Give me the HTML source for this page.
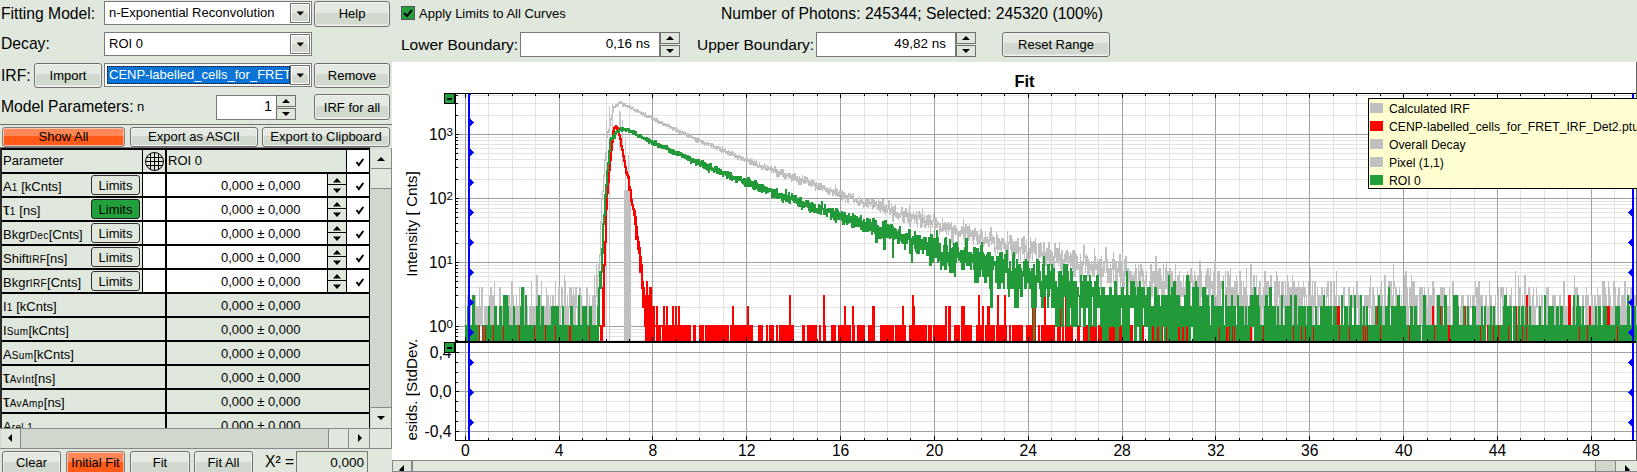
<!DOCTYPE html>
<html><head><meta charset="utf-8"><style>
html,body{margin:0;padding:0;width:1637px;height:472px;overflow:hidden;background:#e0e8de;position:relative;font-family:"Liberation Sans", sans-serif;}
div,span,svg{position:absolute;box-sizing:border-box;}
span{white-space:nowrap;}
sub{font-size:10px;vertical-align:baseline;letter-spacing:0.4px;}
</style></head><body>
<span style="left:1px;top:6px;font-size:15.7px;line-height:15.7px;color:#000;font-weight:400;">Fitting Model:</span>
<div style="left:104px;top:1px;width:208px;height:24px;border:1px solid #7a7a7a;background:#fff"></div>
<span style="left:109px;top:6px;font-size:13px;line-height:13px;color:#000;font-weight:400;">n-Exponential Reconvolution</span>
<div style="left:290px;top:3px;width:20px;height:20px;border:1px solid #707070;background:linear-gradient(to bottom,#e4eae2 0,#e4eae2 52%,#d1d9cf 52%,#d1d9cf 92%,#e0e6de 92%);box-shadow:inset 0 0 0 1px #fff"></div>
<svg style="left:290px;top:3px" width="20" height="20"><path d="M6.5 8.5 h7.5 l-3.75 4z" fill="#000"/></svg>
<div style="left:314px;top:1px;width:76px;height:26px;border:1px solid #707070;border-radius:3px;background:linear-gradient(to bottom,#e4eae2 0,#e4eae2 45%,#d1d9cf 45%,#d1d9cf 92%,#e0e6de 92%);box-shadow:inset 0 0 0 1px rgba(255,255,255,0.55)"></div>
<span style="left:152.0px;width:400px;top:7px;font-size:13px;line-height:13px;color:#000;font-weight:400;text-align:center;">Help</span>
<span style="left:1px;top:36px;font-size:15.7px;line-height:15.7px;color:#000;font-weight:400;">Decay:</span>
<div style="left:104px;top:32px;width:208px;height:24px;border:1px solid #7a7a7a;background:#fff"></div>
<span style="left:109px;top:37px;font-size:13px;line-height:13px;color:#000;font-weight:400;">ROI 0</span>
<div style="left:290px;top:34px;width:20px;height:20px;border:1px solid #707070;background:linear-gradient(to bottom,#e4eae2 0,#e4eae2 52%,#d1d9cf 52%,#d1d9cf 92%,#e0e6de 92%);box-shadow:inset 0 0 0 1px #fff"></div>
<svg style="left:290px;top:34px" width="20" height="20"><path d="M6.5 8.5 h7.5 l-3.75 4z" fill="#000"/></svg>
<span style="left:1px;top:68px;font-size:15.7px;line-height:15.7px;color:#000;font-weight:400;">IRF:</span>
<div style="left:34px;top:63px;width:68px;height:25px;border:1px solid #707070;border-radius:3px;background:linear-gradient(to bottom,#e4eae2 0,#e4eae2 45%,#d1d9cf 45%,#d1d9cf 92%,#e0e6de 92%);box-shadow:inset 0 0 0 1px rgba(255,255,255,0.55)"></div>
<span style="left:-132.0px;width:400px;top:69px;font-size:13px;line-height:13px;color:#000;font-weight:400;text-align:center;">Import</span>
<div style="left:104px;top:63px;width:208px;height:24px;border:1px solid #7a7a7a;background:#fff"></div>
<div style="left:107px;top:66px;width:183px;height:18px;background:#0a74d6;outline:1px dotted #ff8c00;outline-offset:-1px"></div>
<div style="left:107px;top:66px;width:183px;height:18px;border:1px dotted #000;box-sizing:border-box"></div>
<span style="left:109px;top:68px;font-size:13px;line-height:13px;color:#fff;font-weight:400;width:180px;height:17px;overflow:hidden;white-space:nowrap">CENP-labelled_cells_for_FRET</span>
<div style="left:290px;top:65px;width:20px;height:20px;border:1px solid #707070;background:linear-gradient(to bottom,#e4eae2 0,#e4eae2 52%,#d1d9cf 52%,#d1d9cf 92%,#e0e6de 92%);box-shadow:inset 0 0 0 1px #fff"></div>
<svg style="left:290px;top:65px" width="20" height="20"><path d="M6.5 8.5 h7.5 l-3.75 4z" fill="#000"/></svg>
<div style="left:314px;top:63px;width:76px;height:25px;border:1px solid #707070;border-radius:3px;background:linear-gradient(to bottom,#e4eae2 0,#e4eae2 45%,#d1d9cf 45%,#d1d9cf 92%,#e0e6de 92%);box-shadow:inset 0 0 0 1px rgba(255,255,255,0.55)"></div>
<span style="left:152.0px;width:400px;top:69px;font-size:13px;line-height:13px;color:#000;font-weight:400;text-align:center;">Remove</span>
<span style="left:1px;top:99px;font-size:15.7px;line-height:15.7px;color:#000;font-weight:400;">Model Parameters:</span>
<span style="left:137px;top:100px;font-size:13px;line-height:13px;color:#000;font-weight:400;">n</span>
<div style="left:216px;top:95px;width:61px;height:25px;border:1px solid #7a7a7a;background:#fff"></div>
<span style="right:1365px;top:99px;font-size:14.5px;line-height:14.5px;color:#000;font-weight:400;text-align:right;">1</span>
<div style="left:276px;top:95px;width:20px;height:12px;border:1px solid #707070;background:#e0e8de;"></div>
<svg style="left:276px;top:95px" width="20" height="12"><path d="M6.0 8.0 h8 l-4 -4z" fill="#000"/></svg>
<div style="left:276px;top:108px;width:20px;height:12px;border:1px solid #707070;background:#e0e8de;"></div>
<svg style="left:276px;top:108px" width="20" height="12"><path d="M6.0 4.0 h8 l-4 4z" fill="#000"/></svg>
<div style="left:314px;top:94px;width:76px;height:26px;border:1px solid #707070;border-radius:3px;background:linear-gradient(to bottom,#e4eae2 0,#e4eae2 45%,#d1d9cf 45%,#d1d9cf 92%,#e0e6de 92%);box-shadow:inset 0 0 0 1px rgba(255,255,255,0.55)"></div>
<span style="left:152.0px;width:400px;top:101px;font-size:13px;line-height:13px;color:#000;font-weight:400;text-align:center;">IRF for all</span>
<div style="left:0px;top:124px;width:392px;height:1px;background:#707070"></div>
<div style="left:2px;top:127px;width:123px;height:20px;border:1px solid #808080;border-radius:3px;background:linear-gradient(to bottom,#ff8655 0,#ff8655 45%,#ff5a18 45%,#ff5a18 92%,#ff7040 92%);box-shadow:inset 0 0 0 1px rgba(255,255,255,0.55)"></div>
<span style="left:-136.5px;width:400px;top:130px;font-size:13px;line-height:13px;color:#000;font-weight:400;text-align:center;">Show All</span>
<div style="left:130px;top:127px;width:128px;height:20px;border:1px solid #707070;border-radius:3px;background:linear-gradient(to bottom,#e4eae2 0,#e4eae2 45%,#d1d9cf 45%,#d1d9cf 92%,#e0e6de 92%);box-shadow:inset 0 0 0 1px rgba(255,255,255,0.55)"></div>
<span style="left:-6.0px;width:400px;top:130px;font-size:13px;line-height:13px;color:#000;font-weight:400;text-align:center;">Export as ASCII</span>
<div style="left:262px;top:127px;width:128px;height:20px;border:1px solid #707070;border-radius:3px;background:linear-gradient(to bottom,#e4eae2 0,#e4eae2 45%,#d1d9cf 45%,#d1d9cf 92%,#e0e6de 92%);box-shadow:inset 0 0 0 1px rgba(255,255,255,0.55)"></div>
<span style="left:126.0px;width:400px;top:130px;font-size:13px;line-height:13px;color:#000;font-weight:400;text-align:center;">Export to Clipboard</span>
<div style="left:1px;top:148px;width:369px;height:280px;background:#e0e8de"></div>
<div style="left:0px;top:147px;width:370px;height:1px;background:#777"></div>
<div style="left:142px;top:150px;width:23px;height:22px;background:#e0e8de"></div>
<div style="left:167px;top:150px;width:179px;height:22px;background:#e0e8de"></div>
<div style="left:347px;top:150px;width:22px;height:22px;background:#fff"></div>
<span style="left:3px;top:154px;font-size:13px;line-height:13px;color:#000;font-weight:400;">Parameter</span>
<span style="left:168px;top:154px;font-size:13px;line-height:13px;color:#000;font-weight:400;">ROI 0</span>
<div style="left:143px;top:174px;width:22px;height:22px;background:#fff"></div>
<div style="left:167px;top:174px;width:160px;height:22px;background:#fff"></div>
<div style="left:347px;top:174px;width:22px;height:22px;background:#fff"></div>
<div style="left:328px;top:174px;width:18px;height:22px;background:#e0e8de"></div>
<div style="left:328px;top:184px;width:18px;height:1px;background:#000"></div>
<svg style="left:328px;top:174px" width="18" height="22"><path d="M5 8.5 h8 l-4 -4.5z M5 14.5 h8 l-4 4.5z" fill="#000"/></svg>
<span style="left:3px;top:180px;font-size:13px;line-height:13px;color:#000;font-weight:400;">A<sub>1</sub> [kCnts]</span>
<span style="left:221px;top:179px;font-size:13px;line-height:13px;color:#000;font-weight:400;">0,000 ± 0,000</span>
<div style="left:91px;top:175px;width:49px;height:20px;border:1px solid #303030;border-radius:3px;background:#e0e8de"></div>
<span style="left:-84.5px;width:400px;top:179px;font-size:13px;line-height:13px;color:#000;font-weight:400;text-align:center;">Limits</span>
<div style="left:143px;top:198px;width:22px;height:22px;background:#fff"></div>
<div style="left:167px;top:198px;width:160px;height:22px;background:#fff"></div>
<div style="left:347px;top:198px;width:22px;height:22px;background:#fff"></div>
<div style="left:328px;top:198px;width:18px;height:22px;background:#e0e8de"></div>
<div style="left:328px;top:208px;width:18px;height:1px;background:#000"></div>
<svg style="left:328px;top:198px" width="18" height="22"><path d="M5 8.5 h8 l-4 -4.5z M5 14.5 h8 l-4 4.5z" fill="#000"/></svg>
<span style="left:3px;top:204px;font-size:13px;line-height:13px;color:#000;font-weight:400;"><b style="font-weight:400;font-size:17px;line-height:10px">τ</b><sub>1</sub> [ns]</span>
<span style="left:221px;top:203px;font-size:13px;line-height:13px;color:#000;font-weight:400;">0,000 ± 0,000</span>
<div style="left:91px;top:199px;width:49px;height:20px;border:1px solid #202020;border-radius:3px;background:#22a03c"></div>
<span style="left:-84.5px;width:400px;top:203px;font-size:13px;line-height:13px;color:#000;font-weight:400;text-align:center;">Limits</span>
<div style="left:143px;top:222px;width:22px;height:22px;background:#fff"></div>
<div style="left:167px;top:222px;width:160px;height:22px;background:#fff"></div>
<div style="left:347px;top:222px;width:22px;height:22px;background:#fff"></div>
<div style="left:328px;top:222px;width:18px;height:22px;background:#e0e8de"></div>
<div style="left:328px;top:232px;width:18px;height:1px;background:#000"></div>
<svg style="left:328px;top:222px" width="18" height="22"><path d="M5 8.5 h8 l-4 -4.5z M5 14.5 h8 l-4 4.5z" fill="#000"/></svg>
<span style="left:3px;top:228px;font-size:13px;line-height:13px;color:#000;font-weight:400;">Bkgr<sub>Dec</sub>[Cnts]</span>
<span style="left:221px;top:227px;font-size:13px;line-height:13px;color:#000;font-weight:400;">0,000 ± 0,000</span>
<div style="left:91px;top:223px;width:49px;height:20px;border:1px solid #303030;border-radius:3px;background:#e0e8de"></div>
<span style="left:-84.5px;width:400px;top:227px;font-size:13px;line-height:13px;color:#000;font-weight:400;text-align:center;">Limits</span>
<div style="left:143px;top:246px;width:22px;height:22px;background:#fff"></div>
<div style="left:167px;top:246px;width:160px;height:22px;background:#fff"></div>
<div style="left:347px;top:246px;width:22px;height:22px;background:#fff"></div>
<div style="left:328px;top:246px;width:18px;height:22px;background:#e0e8de"></div>
<div style="left:328px;top:256px;width:18px;height:1px;background:#000"></div>
<svg style="left:328px;top:246px" width="18" height="22"><path d="M5 8.5 h8 l-4 -4.5z M5 14.5 h8 l-4 4.5z" fill="#000"/></svg>
<span style="left:3px;top:252px;font-size:13px;line-height:13px;color:#000;font-weight:400;">Shift<sub>IRF</sub>[ns]</span>
<span style="left:221px;top:251px;font-size:13px;line-height:13px;color:#000;font-weight:400;">0,000 ± 0,000</span>
<div style="left:91px;top:247px;width:49px;height:20px;border:1px solid #303030;border-radius:3px;background:#e0e8de"></div>
<span style="left:-84.5px;width:400px;top:251px;font-size:13px;line-height:13px;color:#000;font-weight:400;text-align:center;">Limits</span>
<div style="left:143px;top:270px;width:22px;height:22px;background:#fff"></div>
<div style="left:167px;top:270px;width:160px;height:22px;background:#fff"></div>
<div style="left:347px;top:270px;width:22px;height:22px;background:#fff"></div>
<div style="left:328px;top:270px;width:18px;height:22px;background:#e0e8de"></div>
<div style="left:328px;top:280px;width:18px;height:1px;background:#000"></div>
<svg style="left:328px;top:270px" width="18" height="22"><path d="M5 8.5 h8 l-4 -4.5z M5 14.5 h8 l-4 4.5z" fill="#000"/></svg>
<span style="left:3px;top:276px;font-size:13px;line-height:13px;color:#000;font-weight:400;">Bkgr<sub>IRF</sub>[Cnts]</span>
<span style="left:221px;top:275px;font-size:13px;line-height:13px;color:#000;font-weight:400;">0,000 ± 0,000</span>
<div style="left:91px;top:271px;width:49px;height:20px;border:1px solid #303030;border-radius:3px;background:#e0e8de"></div>
<span style="left:-84.5px;width:400px;top:275px;font-size:13px;line-height:13px;color:#000;font-weight:400;text-align:center;">Limits</span>
<span style="left:3px;top:300px;font-size:13px;line-height:13px;color:#000;font-weight:400;">I<sub>1</sub> [kCnts]</span>
<span style="left:221px;top:299px;font-size:13px;line-height:13px;color:#000;font-weight:400;">0,000 ± 0,000</span>
<span style="left:3px;top:324px;font-size:13px;line-height:13px;color:#000;font-weight:400;">I<sub>Sum</sub>[kCnts]</span>
<span style="left:221px;top:323px;font-size:13px;line-height:13px;color:#000;font-weight:400;">0,000 ± 0,000</span>
<span style="left:3px;top:348px;font-size:13px;line-height:13px;color:#000;font-weight:400;">A<sub>Sum</sub>[kCnts]</span>
<span style="left:221px;top:347px;font-size:13px;line-height:13px;color:#000;font-weight:400;">0,000 ± 0,000</span>
<span style="left:3px;top:372px;font-size:13px;line-height:13px;color:#000;font-weight:400;"><b style="font-weight:400;font-size:17px;line-height:10px">τ</b><sub>AvInt</sub>[ns]</span>
<span style="left:221px;top:371px;font-size:13px;line-height:13px;color:#000;font-weight:400;">0,000 ± 0,000</span>
<span style="left:3px;top:396px;font-size:13px;line-height:13px;color:#000;font-weight:400;"><b style="font-weight:400;font-size:17px;line-height:10px">τ</b><sub>AvAmp</sub>[ns]</span>
<span style="left:221px;top:395px;font-size:13px;line-height:13px;color:#000;font-weight:400;">0,000 ± 0,000</span>
<span style="left:3px;top:420px;font-size:13px;line-height:13px;color:#000;font-weight:400;">A<sub>rel 1</sub></span>
<span style="left:221px;top:419px;font-size:13px;line-height:13px;color:#000;font-weight:400;">0,000 ± 0,000</span>
<div style="left:1px;top:148px;width:369px;height:2px;background:#000"></div>
<div style="left:1px;top:172px;width:369px;height:2px;background:#000"></div>
<div style="left:1px;top:196px;width:369px;height:2px;background:#000"></div>
<div style="left:1px;top:220px;width:369px;height:2px;background:#000"></div>
<div style="left:1px;top:244px;width:369px;height:2px;background:#000"></div>
<div style="left:1px;top:268px;width:369px;height:2px;background:#000"></div>
<div style="left:1px;top:292px;width:369px;height:2px;background:#000"></div>
<div style="left:1px;top:316px;width:369px;height:2px;background:#000"></div>
<div style="left:1px;top:340px;width:369px;height:2px;background:#000"></div>
<div style="left:1px;top:364px;width:369px;height:2px;background:#000"></div>
<div style="left:1px;top:388px;width:369px;height:2px;background:#000"></div>
<div style="left:1px;top:412px;width:369px;height:2px;background:#000"></div>
<div style="left:0px;top:148px;width:2px;height:280px;background:#2a2a2a"></div>
<div style="left:142px;top:148px;width:1px;height:146px;background:#000"></div>
<div style="left:165px;top:148px;width:2px;height:280px;background:#000"></div>
<div style="left:327px;top:172px;width:1px;height:122px;background:#000"></div>
<div style="left:346px;top:148px;width:1px;height:146px;background:#000"></div>
<div style="left:369px;top:148px;width:1px;height:280px;background:#000"></div>
<svg style="left:144px;top:151px" width="21" height="21"><defs><clipPath id="gc"><circle cx="10.5" cy="10.5" r="9"/></clipPath></defs><g fill="none" stroke="#000" stroke-width="1"><circle cx="10.5" cy="10.5" r="9"/><g clip-path="url(#gc)"><path d="M6.5 0V21M10.5 0V21M14.5 0V21M0 6.5H21M0 10.5H21M0 14.5H21"/></g></g></svg>
<svg style="left:350px;top:154px" width="16" height="14"><path d="M6.5 8 l2.3 3 l4.5 -6" fill="none" stroke="#000" stroke-width="2"/></svg>
<svg style="left:350px;top:178px" width="16" height="14"><path d="M6.5 8 l2.3 3 l4.5 -6" fill="none" stroke="#000" stroke-width="2"/></svg>
<svg style="left:350px;top:202px" width="16" height="14"><path d="M6.5 8 l2.3 3 l4.5 -6" fill="none" stroke="#000" stroke-width="2"/></svg>
<svg style="left:350px;top:226px" width="16" height="14"><path d="M6.5 8 l2.3 3 l4.5 -6" fill="none" stroke="#000" stroke-width="2"/></svg>
<svg style="left:350px;top:250px" width="16" height="14"><path d="M6.5 8 l2.3 3 l4.5 -6" fill="none" stroke="#000" stroke-width="2"/></svg>
<svg style="left:350px;top:274px" width="16" height="14"><path d="M6.5 8 l2.3 3 l4.5 -6" fill="none" stroke="#000" stroke-width="2"/></svg>
<div style="left:370px;top:148px;width:22px;height:280px;background:#d0d8ce;border-right:1px solid #888"></div>
<div style="left:371px;top:149px;width:20px;height:20px;background:#e0e8de;border-bottom:1px solid #888"></div>
<svg style="left:371px;top:149px" width="20" height="20"><path d="M6 12 h8 l-4 -4z" fill="#000"/></svg>
<div style="left:371px;top:169px;width:20px;height:20px;background:#e0e8de;border-bottom:1px solid #888"></div>
<div style="left:371px;top:407px;width:20px;height:21px;background:#e0e8de;border-top:1px solid #888"></div>
<svg style="left:371px;top:407px" width="20" height="21"><path d="M6 9 h8 l-4 4z" fill="#000"/></svg>
<div style="left:0px;top:428px;width:392px;height:21px;background:#d0d8ce;border-top:1px solid #888;border-bottom:1px solid #888"></div>
<div style="left:1px;top:429px;width:20px;height:19px;background:#e0e8de;border-right:1px solid #888"></div>
<svg style="left:1px;top:429px" width="20" height="19"><path d="M11 5 v8 l-4 -4z" fill="#000"/></svg>
<div style="left:328px;top:429px;width:21px;height:19px;background:#e0e8de;border-left:1px solid #888;border-right:1px solid #888"></div>
<div style="left:349px;top:429px;width:21px;height:19px;background:#e0e8de;border-right:1px solid #888"></div>
<svg style="left:349px;top:429px" width="20" height="19"><path d="M9 5 v8 l4 -4z" fill="#000"/></svg>
<div style="left:370px;top:428px;width:22px;height:21px;background:#e0e8de;border-top:1px solid #888;border-right:1px solid #888;border-bottom:1px solid #888"></div>
<div style="left:2px;top:451px;width:59px;height:24px;border:1px solid #707070;border-radius:3px;background:linear-gradient(to bottom,#e4eae2 0,#e4eae2 45%,#d1d9cf 45%,#d1d9cf 92%,#e0e6de 92%);box-shadow:inset 0 0 0 1px rgba(255,255,255,0.55)"></div>
<span style="left:-168.5px;width:400px;top:456px;font-size:13px;line-height:13px;color:#000;font-weight:400;text-align:center;">Clear</span>
<div style="left:66px;top:451px;width:59px;height:24px;border:1px solid #808080;border-radius:3px;background:linear-gradient(to bottom,#ff8655 0,#ff8655 45%,#ff5a18 45%,#ff5a18 92%,#ff7040 92%);box-shadow:inset 0 0 0 1px rgba(255,255,255,0.55)"></div>
<span style="left:-104.5px;width:400px;top:456px;font-size:13px;line-height:13px;color:#000;font-weight:400;text-align:center;">Initial Fit</span>
<div style="left:130px;top:451px;width:60px;height:24px;border:1px solid #707070;border-radius:3px;background:linear-gradient(to bottom,#e4eae2 0,#e4eae2 45%,#d1d9cf 45%,#d1d9cf 92%,#e0e6de 92%);box-shadow:inset 0 0 0 1px rgba(255,255,255,0.55)"></div>
<span style="left:-40.0px;width:400px;top:456px;font-size:13px;line-height:13px;color:#000;font-weight:400;text-align:center;">Fit</span>
<div style="left:194px;top:451px;width:59px;height:24px;border:1px solid #707070;border-radius:3px;background:linear-gradient(to bottom,#e4eae2 0,#e4eae2 45%,#d1d9cf 45%,#d1d9cf 92%,#e0e6de 92%);box-shadow:inset 0 0 0 1px rgba(255,255,255,0.55)"></div>
<span style="left:23.5px;width:400px;top:456px;font-size:13px;line-height:13px;color:#000;font-weight:400;text-align:center;">Fit All</span>
<span style="left:265px;top:454px;font-size:15.7px;line-height:15.7px;color:#000;font-weight:400;">X² =</span>
<div style="left:296px;top:451px;width:72px;height:24px;border:1px solid #7a7a7a;background:#e0e8de"></div>
<span style="right:1273px;top:456px;font-size:13.5px;line-height:13.5px;color:#000;font-weight:400;text-align:right;">0,000</span>
<div style="left:401px;top:6px;width:14px;height:14px;background:#22a03c;border:1px solid #555"></div>
<svg style="left:401px;top:6px" width="14" height="14"><path d="M3 7 l3 3 l5 -6" fill="none" stroke="#000" stroke-width="2"/></svg>
<span style="left:419px;top:7px;font-size:13px;line-height:13px;color:#000;font-weight:400;">Apply Limits to All Curves</span>
<span style="left:721px;top:6px;font-size:15.7px;line-height:15.7px;color:#000;font-weight:400;">Number of Photons: 245344; Selected: 245320 (100%)</span>
<span style="left:401px;top:37px;font-size:15.5px;line-height:15.5px;color:#000;font-weight:400;">Lower Boundary:</span>
<div style="left:520px;top:32px;width:140px;height:25px;border:1px solid #7a7a7a;background:#fff"></div>
<span style="right:987px;top:37px;font-size:13.5px;line-height:13.5px;color:#000;font-weight:400;text-align:right;">0,16 ns</span>
<div style="left:660px;top:32px;width:20px;height:12px;border:1px solid #707070;background:#e0e8de;"></div>
<svg style="left:660px;top:32px" width="20" height="12"><path d="M6.0 8.0 h8 l-4 -4z" fill="#000"/></svg>
<div style="left:660px;top:45px;width:20px;height:12px;border:1px solid #707070;background:#e0e8de;"></div>
<svg style="left:660px;top:45px" width="20" height="12"><path d="M6.0 4.0 h8 l-4 4z" fill="#000"/></svg>
<span style="left:697px;top:37px;font-size:15.5px;line-height:15.5px;color:#000;font-weight:400;">Upper Boundary:</span>
<div style="left:816px;top:32px;width:140px;height:25px;border:1px solid #7a7a7a;background:#fff"></div>
<span style="right:691px;top:37px;font-size:13.5px;line-height:13.5px;color:#000;font-weight:400;text-align:right;">49,82 ns</span>
<div style="left:956px;top:32px;width:20px;height:12px;border:1px solid #707070;background:#e0e8de;"></div>
<svg style="left:956px;top:32px" width="20" height="12"><path d="M6.0 8.0 h8 l-4 -4z" fill="#000"/></svg>
<div style="left:956px;top:45px;width:20px;height:12px;border:1px solid #707070;background:#e0e8de;"></div>
<svg style="left:956px;top:45px" width="20" height="12"><path d="M6.0 4.0 h8 l-4 4z" fill="#000"/></svg>
<div style="left:1002px;top:32px;width:108px;height:25px;border:1px solid #707070;border-radius:3px;background:linear-gradient(to bottom,#e4eae2 0,#e4eae2 45%,#d1d9cf 45%,#d1d9cf 92%,#e0e6de 92%);box-shadow:inset 0 0 0 1px rgba(255,255,255,0.55)"></div>
<span style="left:856.0px;width:400px;top:38px;font-size:13px;line-height:13px;color:#000;font-weight:400;text-align:center;">Reset Range</span>
<div style="left:392px;top:62px;width:1245px;height:398px;background:#fff;border-right:1px solid #666"></div>
<svg style="left:0;top:0" width="1637" height="472" shape-rendering="crispEdges"><path d="M488.5 93V440M512.5 93V440M535.5 93V440M582.5 93V440M606.5 93V440M629.5 93V440M676.5 93V440M699.5 93V440M723.5 93V440M770.5 93V440M793.5 93V440M817.5 93V440M864.5 93V440M887.5 93V440M910.5 93V440M957.5 93V440M981.5 93V440M1004.5 93V440M1051.5 93V440M1075.5 93V440M1098.5 93V440M1145.5 93V440M1169.5 93V440M1192.5 93V440M1239.5 93V440M1262.5 93V440M1286.5 93V440M1333.5 93V440M1356.5 93V440M1380.5 93V440M1427.5 93V440M1450.5 93V440M1474.5 93V440M1520.5 93V440M1544.5 93V440M1567.5 93V440M1614.5 93V440M455 340.5H1636M455 336.5H1636M455 332.5H1636M455 329.5H1636M455 307.5H1636M455 295.5H1636M455 287.5H1636M455 281.5H1636M455 276.5H1636M455 272.5H1636M455 268.5H1636M455 265.5H1636M455 243.5H1636M455 231.5H1636M455 223.5H1636M455 217.5H1636M455 212.5H1636M455 208.5H1636M455 204.5H1636M455 201.5H1636M455 179.5H1636M455 167.5H1636M455 159.5H1636M455 153.5H1636M455 148.5H1636M455 144.5H1636M455 140.5H1636M455 137.5H1636M455 115.5H1636M455 103.5H1636M455 95.5H1636M455 421.5H1636M455 411.5H1636M455 401.5H1636M455 382.5H1636M455 372.5H1636M455 362.5H1636" stroke="#e3e3e3" stroke-width="1" fill="none"/><path d="M465.5 93V440M559.5 93V440M652.5 93V440M746.5 93V440M840.5 93V440M934.5 93V440M1028.5 93V440M1122.5 93V440M1215.5 93V440M1309.5 93V440M1403.5 93V440M1497.5 93V440M1591.5 93V440M455 326.5H1636M455 262.5H1636M455 198.5H1636M455 134.5H1636M455 431.5H1636M455 391.5H1636M455 352.5H1636" stroke="#a0a0a0" stroke-width="1" fill="none"/><g stroke="none"><path d="M464 325h1V327h-1ZM465 325h1V327h-1ZM466 325h1V342h-1ZM467 295h1V342h-1ZM468 306h1V327h-1ZM469 306h1V342h-1ZM470 306h1V327h-1ZM471 325h1V342h-1ZM472 306h1V342h-1ZM473 306h1V342h-1ZM474 295h1V342h-1ZM475 295h1V327h-1ZM476 306h1V327h-1ZM477 306h1V327h-1ZM478 306h1V342h-1ZM479 287h1V342h-1ZM480 306h1V327h-1ZM481 287h1V327h-1ZM482 287h1V327h-1ZM483 325h1V342h-1ZM484 306h1V342h-1ZM485 306h1V327h-1ZM486 306h1V327h-1ZM487 306h1V327h-1ZM488 306h1V342h-1ZM489 295h1V342h-1ZM490 287h1V327h-1ZM491 287h1V327h-1ZM492 295h1V342h-1ZM493 295h1V342h-1ZM494 281h1V327h-1ZM495 306h1V342h-1ZM496 306h1V342h-1ZM497 325h1V342h-1ZM498 325h1V342h-1ZM499 287h1V327h-1ZM500 287h1V342h-1ZM501 306h1V327h-1ZM502 306h1V327h-1ZM503 295h1V342h-1ZM504 295h1V327h-1ZM505 306h1V327h-1ZM506 325h1V327h-1ZM507 295h1V342h-1ZM508 295h1V308h-1ZM509 295h1V342h-1ZM510 306h1V342h-1ZM511 281h1V342h-1ZM512 281h1V327h-1ZM513 295h1V342h-1ZM514 325h1V342h-1ZM515 306h1V342h-1ZM516 295h1V327h-1ZM517 306h1V342h-1ZM518 306h1V342h-1ZM519 287h1V342h-1ZM520 306h1V342h-1ZM521 306h1V327h-1ZM522 306h1V327h-1ZM523 287h1V327h-1ZM524 287h1V342h-1ZM525 325h1V342h-1ZM526 306h1V342h-1ZM527 306h1V342h-1ZM528 325h1V342h-1ZM529 306h1V327h-1ZM530 306h1V342h-1ZM531 281h1V327h-1ZM532 306h1V342h-1ZM533 306h1V327h-1ZM534 306h1V327h-1ZM535 306h1V342h-1ZM536 275h1V308h-1ZM537 275h1V342h-1ZM538 306h1V342h-1ZM539 306h1V327h-1ZM540 295h1V342h-1ZM541 281h1V327h-1ZM542 306h1V327h-1ZM543 306h1V342h-1ZM544 306h1V327h-1ZM545 306h1V327h-1ZM546 287h1V342h-1ZM547 295h1V342h-1ZM548 295h1V327h-1ZM549 306h1V342h-1ZM550 295h1V342h-1ZM551 306h1V342h-1ZM552 295h1V342h-1ZM553 295h1V327h-1ZM554 306h1V342h-1ZM555 281h1V327h-1ZM556 325h1V342h-1ZM557 306h1V342h-1ZM558 287h1V308h-1ZM559 287h1V327h-1ZM560 306h1V342h-1ZM561 287h1V308h-1ZM562 287h1V327h-1ZM563 306h1V342h-1ZM564 275h1V342h-1ZM565 281h1V327h-1ZM566 306h1V342h-1ZM567 295h1V342h-1ZM568 306h1V327h-1ZM569 287h1V308h-1ZM570 287h1V342h-1ZM571 287h1V342h-1ZM572 295h1V342h-1ZM573 287h1V342h-1ZM574 295h1V327h-1ZM575 287h1V327h-1ZM576 287h1V308h-1ZM577 306h1V342h-1ZM578 325h1V342h-1ZM579 287h1V342h-1ZM580 287h1V327h-1ZM581 295h1V327h-1ZM582 325h1V342h-1ZM583 325h1V342h-1ZM584 325h1V342h-1ZM585 325h1V342h-1ZM586 287h1V327h-1ZM587 287h1V342h-1ZM588 306h1V342h-1ZM589 295h1V327h-1ZM590 325h1V327h-1ZM591 306h1V342h-1ZM592 295h1V327h-1ZM593 295h1V342h-1ZM594 275h1V342h-1ZM595 295h1V342h-1ZM596 264h1V297h-1ZM597 275h1V327h-1ZM598 264h1V277h-1ZM599 254h1V270h-1ZM600 221h1V256h-1ZM601 198h1V223h-1ZM602 190h1V200h-1ZM603 175h1V192h-1ZM604 159h1V177h-1ZM605 152h1V161h-1ZM606 136h1V154h-1ZM607 131h1V138h-1ZM608 129h1V133h-1ZM609 124h1V131h-1ZM610 118h1V126h-1ZM611 114h1V120h-1ZM612 111h1V116h-1ZM613 106h1V113h-1ZM614 106h1V108h-1ZM615 104h1V108h-1ZM616 104h1V107h-1ZM617 103h1V107h-1ZM618 102h1V106h-1ZM619 101h1V104h-1ZM620 101h1V104h-1ZM621 101h1V104h-1ZM622 102h1V107h-1ZM623 103h1V107h-1ZM624 103h1V106h-1ZM625 103h1V107h-1ZM626 105h1V107h-1ZM627 105h1V108h-1ZM628 105h1V108h-1ZM629 106h1V108h-1ZM630 105h1V109h-1ZM631 107h1V110h-1ZM632 107h1V109h-1ZM633 107h1V111h-1ZM634 109h1V111h-1ZM635 109h1V112h-1ZM636 109h1V113h-1ZM637 109h1V112h-1ZM638 110h1V113h-1ZM639 111h1V113h-1ZM640 111h1V114h-1ZM641 112h1V115h-1ZM642 112h1V115h-1ZM643 112h1V116h-1ZM644 113h1V117h-1ZM645 112h1V117h-1ZM646 115h1V118h-1ZM647 115h1V118h-1ZM648 115h1V118h-1ZM649 115h1V118h-1ZM650 115h1V118h-1ZM651 116h1V120h-1ZM652 117h1V120h-1ZM653 117h1V120h-1ZM654 118h1V121h-1ZM655 118h1V122h-1ZM656 118h1V122h-1ZM657 118h1V123h-1ZM658 120h1V124h-1ZM659 121h1V124h-1ZM660 121h1V124h-1ZM661 121h1V124h-1ZM662 121h1V126h-1ZM663 123h1V126h-1ZM664 123h1V126h-1ZM665 123h1V126h-1ZM666 124h1V127h-1ZM667 124h1V127h-1ZM668 124h1V127h-1ZM669 124h1V129h-1ZM670 126h1V128h-1ZM671 126h1V129h-1ZM672 127h1V131h-1ZM673 127h1V130h-1ZM674 127h1V130h-1ZM675 127h1V132h-1ZM676 130h1V132h-1ZM677 128h1V132h-1ZM678 130h1V133h-1ZM679 130h1V134h-1ZM680 130h1V133h-1ZM681 131h1V134h-1ZM682 131h1V135h-1ZM683 132h1V135h-1ZM684 131h1V136h-1ZM685 132h1V135h-1ZM686 133h1V137h-1ZM687 133h1V137h-1ZM688 133h1V138h-1ZM689 135h1V138h-1ZM690 134h1V138h-1ZM691 135h1V138h-1ZM692 136h1V139h-1ZM693 137h1V139h-1ZM694 137h1V140h-1ZM695 137h1V142h-1ZM696 138h1V143h-1ZM697 138h1V143h-1ZM698 137h1V142h-1ZM699 139h1V142h-1ZM700 139h1V142h-1ZM701 140h1V144h-1ZM702 140h1V144h-1ZM703 140h1V145h-1ZM704 142h1V146h-1ZM705 142h1V145h-1ZM706 143h1V146h-1ZM707 142h1V145h-1ZM708 142h1V146h-1ZM709 143h1V145h-1ZM710 143h1V147h-1ZM711 143h1V148h-1ZM712 143h1V147h-1ZM713 144h1V149h-1ZM714 146h1V149h-1ZM715 146h1V149h-1ZM716 146h1V150h-1ZM717 146h1V150h-1ZM718 145h1V149h-1ZM719 147h1V151h-1ZM720 147h1V152h-1ZM721 149h1V153h-1ZM722 146h1V152h-1ZM723 148h1V153h-1ZM724 149h1V152h-1ZM725 149h1V153h-1ZM726 151h1V154h-1ZM727 151h1V155h-1ZM728 150h1V155h-1ZM729 151h1V156h-1ZM730 152h1V156h-1ZM731 151h1V156h-1ZM732 151h1V155h-1ZM733 152h1V156h-1ZM734 154h1V158h-1ZM735 153h1V158h-1ZM736 155h1V158h-1ZM737 155h1V160h-1ZM738 155h1V160h-1ZM739 155h1V158h-1ZM740 156h1V161h-1ZM741 156h1V160h-1ZM742 157h1V161h-1ZM743 157h1V161h-1ZM744 158h1V162h-1ZM745 158h1V161h-1ZM746 157h1V161h-1ZM747 157h1V162h-1ZM748 159h1V162h-1ZM749 159h1V165h-1ZM750 158h1V165h-1ZM751 159h1V165h-1ZM752 159h1V165h-1ZM753 161h1V166h-1ZM754 161h1V166h-1ZM755 161h1V166h-1ZM756 160h1V166h-1ZM757 163h1V168h-1ZM758 165h1V168h-1ZM759 162h1V167h-1ZM760 165h1V168h-1ZM761 165h1V170h-1ZM762 165h1V170h-1ZM763 166h1V168h-1ZM764 163h1V170h-1ZM765 165h1V170h-1ZM766 167h1V171h-1ZM767 165h1V171h-1ZM768 166h1V170h-1ZM769 167h1V170h-1ZM770 167h1V171h-1ZM771 166h1V173h-1ZM772 168h1V171h-1ZM773 169h1V174h-1ZM774 166h1V172h-1ZM775 166h1V173h-1ZM776 169h1V177h-1ZM777 169h1V178h-1ZM778 171h1V177h-1ZM779 171h1V177h-1ZM780 169h1V175h-1ZM781 169h1V175h-1ZM782 169h1V177h-1ZM783 169h1V178h-1ZM784 173h1V179h-1ZM785 173h1V179h-1ZM786 174h1V179h-1ZM787 173h1V176h-1ZM788 173h1V178h-1ZM789 173h1V178h-1ZM790 173h1V179h-1ZM791 175h1V182h-1ZM792 174h1V181h-1ZM793 174h1V181h-1ZM794 173h1V180h-1ZM795 173h1V181h-1ZM796 176h1V182h-1ZM797 176h1V182h-1ZM798 178h1V185h-1ZM799 176h1V185h-1ZM800 178h1V185h-1ZM801 178h1V185h-1ZM802 175h1V182h-1ZM803 179h1V184h-1ZM804 176h1V184h-1ZM805 176h1V183h-1ZM806 177h1V184h-1ZM807 177h1V182h-1ZM808 180h1V186h-1ZM809 180h1V186h-1ZM810 181h1V186h-1ZM811 180h1V187h-1ZM812 179h1V186h-1ZM813 180h1V185h-1ZM814 181h1V187h-1ZM815 183h1V191h-1ZM816 182h1V189h-1ZM817 185h1V190h-1ZM818 183h1V190h-1ZM819 183h1V191h-1ZM820 183h1V190h-1ZM821 183h1V190h-1ZM822 185h1V191h-1ZM823 185h1V189h-1ZM824 185h1V190h-1ZM825 187h1V192h-1ZM826 187h1V192h-1ZM827 188h1V194h-1ZM828 188h1V195h-1ZM829 189h1V195h-1ZM830 187h1V193h-1ZM831 189h1V192h-1ZM832 190h1V196h-1ZM833 189h1V196h-1ZM834 190h1V194h-1ZM835 184h1V196h-1ZM836 188h1V196h-1ZM837 189h1V197h-1ZM838 192h1V197h-1ZM839 190h1V197h-1ZM840 191h1V195h-1ZM841 191h1V200h-1ZM842 190h1V201h-1ZM843 192h1V198h-1ZM844 192h1V199h-1ZM845 194h1V203h-1ZM846 195h1V198h-1ZM847 195h1V203h-1ZM848 193h1V203h-1ZM849 193h1V197h-1ZM850 193h1V198h-1ZM851 195h1V198h-1ZM852 194h1V198h-1ZM853 193h1V203h-1ZM854 198h1V203h-1ZM855 198h1V201h-1ZM856 199h1V203h-1ZM857 198h1V205h-1ZM858 201h1V206h-1ZM859 196h1V206h-1ZM860 200h1V205h-1ZM861 198h1V203h-1ZM862 198h1V204h-1ZM863 201h1V208h-1ZM864 202h1V207h-1ZM865 198h1V206h-1ZM866 199h1V207h-1ZM867 199h1V207h-1ZM868 199h1V208h-1ZM869 198h1V204h-1ZM870 202h1V207h-1ZM871 199h1V205h-1ZM872 199h1V210h-1ZM873 199h1V208h-1ZM874 200h1V208h-1ZM875 201h1V207h-1ZM876 201h1V206h-1ZM877 204h1V210h-1ZM878 198h1V210h-1ZM879 201h1V211h-1ZM880 201h1V213h-1ZM881 202h1V210h-1ZM882 199h1V211h-1ZM883 199h1V213h-1ZM884 206h1V212h-1ZM885 205h1V215h-1ZM886 204h1V213h-1ZM887 208h1V213h-1ZM888 200h1V210h-1ZM889 200h1V215h-1ZM890 208h1V215h-1ZM891 204h1V213h-1ZM892 207h1V222h-1ZM893 206h1V222h-1ZM894 206h1V216h-1ZM895 204h1V217h-1ZM896 212h1V218h-1ZM897 212h1V219h-1ZM898 212h1V220h-1ZM899 214h1V218h-1ZM900 212h1V218h-1ZM901 207h1V215h-1ZM902 207h1V222h-1ZM903 211h1V223h-1ZM904 211h1V223h-1ZM905 208h1V217h-1ZM906 208h1V217h-1ZM907 211h1V222h-1ZM908 213h1V223h-1ZM909 205h1V227h-1ZM910 212h1V227h-1ZM911 214h1V222h-1ZM912 214h1V219h-1ZM913 212h1V219h-1ZM914 215h1V223h-1ZM915 214h1V220h-1ZM916 211h1V224h-1ZM917 215h1V228h-1ZM918 211h1V218h-1ZM919 211h1V220h-1ZM920 213h1V228h-1ZM921 215h1V228h-1ZM922 208h1V227h-1ZM923 217h1V223h-1ZM924 214h1V228h-1ZM925 220h1V228h-1ZM926 216h1V227h-1ZM927 215h1V225h-1ZM928 214h1V228h-1ZM929 215h1V225h-1ZM930 215h1V235h-1ZM931 220h1V225h-1ZM932 220h1V228h-1ZM933 214h1V222h-1ZM934 218h1V229h-1ZM935 217h1V229h-1ZM936 218h1V228h-1ZM937 221h1V228h-1ZM938 222h1V225h-1ZM939 223h1V235h-1ZM940 223h1V231h-1ZM941 228h1V232h-1ZM942 218h1V232h-1ZM943 223h1V231h-1ZM944 222h1V230h-1ZM945 222h1V232h-1ZM946 224h1V235h-1ZM947 223h1V230h-1ZM948 222h1V235h-1ZM949 223h1V230h-1ZM950 223h1V230h-1ZM951 222h1V243h-1ZM952 227h1V245h-1ZM953 226h1V245h-1ZM954 225h1V234h-1ZM955 225h1V236h-1ZM956 228h1V234h-1ZM957 229h1V252h-1ZM958 231h1V252h-1ZM959 231h1V237h-1ZM960 230h1V237h-1ZM961 226h1V235h-1ZM962 227h1V234h-1ZM963 219h1V239h-1ZM964 227h1V245h-1ZM965 224h1V245h-1ZM966 224h1V234h-1ZM967 226h1V240h-1ZM968 226h1V241h-1ZM969 224h1V241h-1ZM970 229h1V237h-1ZM971 231h1V237h-1ZM972 230h1V241h-1ZM973 230h1V245h-1ZM974 228h1V240h-1ZM975 228h1V237h-1ZM976 231h1V241h-1ZM977 231h1V245h-1ZM978 235h1V245h-1ZM979 234h1V244h-1ZM980 229h1V244h-1ZM981 229h1V239h-1ZM982 232h1V247h-1ZM983 239h1V247h-1ZM984 237h1V245h-1ZM985 232h1V243h-1ZM986 237h1V243h-1ZM987 236h1V244h-1ZM988 239h1V247h-1ZM989 232h1V247h-1ZM990 227h1V241h-1ZM991 227h1V245h-1ZM992 235h1V243h-1ZM993 237h1V244h-1ZM994 237h1V252h-1ZM995 247h1V256h-1ZM996 231h1V249h-1ZM997 235h1V254h-1ZM998 238h1V250h-1ZM999 238h1V250h-1ZM1000 241h1V250h-1ZM1001 238h1V252h-1ZM1002 238h1V245h-1ZM1003 238h1V249h-1ZM1004 241h1V249h-1ZM1005 242h1V254h-1ZM1006 245h1V254h-1ZM1007 231h1V261h-1ZM1008 242h1V261h-1ZM1009 235h1V244h-1ZM1010 235h1V250h-1ZM1011 235h1V254h-1ZM1012 239h1V254h-1ZM1013 242h1V258h-1ZM1014 241h1V258h-1ZM1015 241h1V258h-1ZM1016 241h1V254h-1ZM1017 238h1V254h-1ZM1018 238h1V261h-1ZM1019 247h1V252h-1ZM1020 247h1V261h-1ZM1021 238h1V249h-1ZM1022 238h1V254h-1ZM1023 236h1V254h-1ZM1024 236h1V261h-1ZM1025 245h1V252h-1ZM1026 239h1V263h-1ZM1027 252h1V266h-1ZM1028 259h1V266h-1ZM1029 248h1V263h-1ZM1030 237h1V258h-1ZM1031 241h1V254h-1ZM1032 242h1V261h-1ZM1033 241h1V252h-1ZM1034 241h1V254h-1ZM1035 238h1V254h-1ZM1036 243h1V261h-1ZM1037 259h1V273h-1ZM1038 243h1V273h-1ZM1039 243h1V258h-1ZM1040 242h1V258h-1ZM1041 243h1V256h-1ZM1042 252h1V263h-1ZM1043 242h1V261h-1ZM1044 242h1V263h-1ZM1045 252h1V266h-1ZM1046 248h1V266h-1ZM1047 248h1V261h-1ZM1048 242h1V261h-1ZM1049 242h1V266h-1ZM1050 250h1V266h-1ZM1051 250h1V270h-1ZM1052 252h1V283h-1ZM1053 256h1V283h-1ZM1054 243h1V270h-1ZM1055 243h1V258h-1ZM1056 248h1V263h-1ZM1057 248h1V263h-1ZM1058 248h1V266h-1ZM1059 242h1V261h-1ZM1060 254h1V270h-1ZM1061 250h1V273h-1ZM1062 250h1V273h-1ZM1063 259h1V270h-1ZM1064 254h1V277h-1ZM1065 252h1V263h-1ZM1066 250h1V263h-1ZM1067 250h1V261h-1ZM1068 252h1V266h-1ZM1069 256h1V263h-1ZM1070 252h1V277h-1ZM1071 254h1V266h-1ZM1072 250h1V270h-1ZM1073 250h1V277h-1ZM1074 250h1V277h-1ZM1075 252h1V277h-1ZM1076 254h1V270h-1ZM1077 256h1V270h-1ZM1078 264h1V270h-1ZM1079 264h1V283h-1ZM1080 254h1V297h-1ZM1081 261h1V277h-1ZM1082 261h1V277h-1ZM1083 245h1V266h-1ZM1084 245h1V258h-1ZM1085 256h1V273h-1ZM1086 254h1V266h-1ZM1087 256h1V277h-1ZM1088 259h1V277h-1ZM1089 261h1V297h-1ZM1090 264h1V270h-1ZM1091 261h1V273h-1ZM1092 264h1V277h-1ZM1093 261h1V277h-1ZM1094 248h1V277h-1ZM1095 256h1V270h-1ZM1096 264h1V270h-1ZM1097 259h1V283h-1ZM1098 261h1V297h-1ZM1099 259h1V277h-1ZM1100 259h1V289h-1ZM1101 256h1V289h-1ZM1102 268h1V277h-1ZM1103 261h1V277h-1ZM1104 261h1V273h-1ZM1105 247h1V263h-1ZM1106 247h1V273h-1ZM1107 259h1V283h-1ZM1108 268h1V283h-1ZM1109 268h1V283h-1ZM1110 264h1V308h-1ZM1111 268h1V283h-1ZM1112 259h1V270h-1ZM1113 252h1V283h-1ZM1114 259h1V270h-1ZM1115 261h1V289h-1ZM1116 261h1V308h-1ZM1117 268h1V308h-1ZM1118 261h1V273h-1ZM1119 254h1V277h-1ZM1120 254h1V297h-1ZM1121 261h1V283h-1ZM1122 252h1V283h-1ZM1123 271h1V297h-1ZM1124 259h1V289h-1ZM1125 256h1V277h-1ZM1126 256h1V297h-1ZM1127 268h1V297h-1ZM1128 268h1V297h-1ZM1129 271h1V283h-1ZM1130 271h1V289h-1ZM1131 271h1V289h-1ZM1132 275h1V297h-1ZM1133 275h1V297h-1ZM1134 271h1V297h-1ZM1135 264h1V297h-1ZM1136 268h1V297h-1ZM1137 281h1V327h-1ZM1138 264h1V297h-1ZM1139 271h1V308h-1ZM1140 264h1V283h-1ZM1141 264h1V277h-1ZM1142 268h1V283h-1ZM1143 271h1V289h-1ZM1144 281h1V297h-1ZM1145 275h1V283h-1ZM1146 271h1V297h-1ZM1147 287h1V308h-1ZM1148 287h1V308h-1ZM1149 281h1V289h-1ZM1150 264h1V289h-1ZM1151 264h1V297h-1ZM1152 271h1V297h-1ZM1153 271h1V283h-1ZM1154 271h1V289h-1ZM1155 256h1V308h-1ZM1156 256h1V308h-1ZM1157 271h1V308h-1ZM1158 268h1V308h-1ZM1159 268h1V289h-1ZM1160 268h1V289h-1ZM1161 275h1V297h-1ZM1162 281h1V297h-1ZM1163 264h1V297h-1ZM1164 281h1V297h-1ZM1165 268h1V289h-1ZM1166 261h1V289h-1ZM1167 271h1V327h-1ZM1168 271h1V297h-1ZM1169 268h1V297h-1ZM1170 268h1V297h-1ZM1171 271h1V308h-1ZM1172 271h1V327h-1ZM1173 281h1V308h-1ZM1174 281h1V308h-1ZM1175 264h1V308h-1ZM1176 281h1V308h-1ZM1177 275h1V308h-1ZM1178 275h1V297h-1ZM1179 271h1V342h-1ZM1180 281h1V342h-1ZM1181 281h1V297h-1ZM1182 287h1V297h-1ZM1183 275h1V297h-1ZM1184 287h1V308h-1ZM1185 281h1V308h-1ZM1186 281h1V308h-1ZM1187 271h1V297h-1ZM1188 287h1V308h-1ZM1189 275h1V327h-1ZM1190 268h1V327h-1ZM1191 268h1V283h-1ZM1192 275h1V308h-1ZM1193 281h1V297h-1ZM1194 271h1V289h-1ZM1195 275h1V289h-1ZM1196 287h1V308h-1ZM1197 275h1V308h-1ZM1198 275h1V289h-1ZM1199 261h1V327h-1ZM1200 261h1V308h-1ZM1201 271h1V297h-1ZM1202 287h1V297h-1ZM1203 287h1V308h-1ZM1204 287h1V327h-1ZM1205 275h1V327h-1ZM1206 271h1V327h-1ZM1207 268h1V289h-1ZM1208 268h1V327h-1ZM1209 275h1V327h-1ZM1210 268h1V297h-1ZM1211 281h1V289h-1ZM1212 281h1V327h-1ZM1213 271h1V308h-1ZM1214 261h1V308h-1ZM1215 261h1V297h-1ZM1216 295h1V342h-1ZM1217 271h1V308h-1ZM1218 271h1V308h-1ZM1219 271h1V308h-1ZM1220 281h1V308h-1ZM1221 281h1V289h-1ZM1222 281h1V327h-1ZM1223 275h1V342h-1ZM1224 325h1V342h-1ZM1225 271h1V327h-1ZM1226 287h1V327h-1ZM1227 271h1V327h-1ZM1228 271h1V342h-1ZM1229 275h1V327h-1ZM1230 268h1V327h-1ZM1231 287h1V308h-1ZM1232 287h1V308h-1ZM1233 287h1V327h-1ZM1234 281h1V342h-1ZM1235 281h1V342h-1ZM1236 275h1V308h-1ZM1237 281h1V308h-1ZM1238 295h1V327h-1ZM1239 271h1V308h-1ZM1240 271h1V342h-1ZM1241 281h1V308h-1ZM1242 295h1V327h-1ZM1243 281h1V342h-1ZM1244 287h1V327h-1ZM1245 287h1V342h-1ZM1246 268h1V327h-1ZM1247 295h1V327h-1ZM1248 306h1V327h-1ZM1249 295h1V342h-1ZM1250 264h1V297h-1ZM1251 264h1V308h-1ZM1252 287h1V342h-1ZM1253 275h1V327h-1ZM1254 275h1V308h-1ZM1255 287h1V327h-1ZM1256 275h1V327h-1ZM1257 325h1V327h-1ZM1258 287h1V342h-1ZM1259 281h1V308h-1ZM1260 281h1V327h-1ZM1261 295h1V327h-1ZM1262 295h1V308h-1ZM1263 287h1V327h-1ZM1264 271h1V327h-1ZM1265 271h1V342h-1ZM1266 281h1V342h-1ZM1267 281h1V308h-1ZM1268 281h1V297h-1ZM1269 295h1V297h-1ZM1270 275h1V327h-1ZM1271 275h1V327h-1ZM1272 306h1V327h-1ZM1273 306h1V342h-1ZM1274 281h1V342h-1ZM1275 281h1V342h-1ZM1276 271h1V327h-1ZM1277 275h1V327h-1ZM1278 281h1V297h-1ZM1279 281h1V342h-1ZM1280 295h1V327h-1ZM1281 281h1V342h-1ZM1282 281h1V342h-1ZM1283 281h1V308h-1ZM1284 295h1V327h-1ZM1285 281h1V327h-1ZM1286 295h1V342h-1ZM1287 275h1V342h-1ZM1288 281h1V342h-1ZM1289 287h1V342h-1ZM1290 287h1V327h-1ZM1291 287h1V308h-1ZM1292 275h1V327h-1ZM1293 281h1V327h-1ZM1294 281h1V308h-1ZM1295 287h1V327h-1ZM1296 287h1V327h-1ZM1297 287h1V327h-1ZM1298 281h1V327h-1ZM1299 287h1V327h-1ZM1300 287h1V327h-1ZM1301 287h1V327h-1ZM1302 287h1V327h-1ZM1303 281h1V297h-1ZM1304 287h1V342h-1ZM1305 287h1V297h-1ZM1306 295h1V342h-1ZM1307 325h1V342h-1ZM1308 281h1V327h-1ZM1309 295h1V342h-1ZM1310 268h1V308h-1ZM1311 295h1V327h-1ZM1312 281h1V327h-1ZM1313 295h1V327h-1ZM1314 281h1V308h-1ZM1315 281h1V342h-1ZM1316 306h1V342h-1ZM1317 287h1V327h-1ZM1318 295h1V327h-1ZM1319 295h1V308h-1ZM1320 295h1V327h-1ZM1321 287h1V327h-1ZM1322 287h1V308h-1ZM1323 295h1V327h-1ZM1324 287h1V342h-1ZM1325 306h1V327h-1ZM1326 287h1V327h-1ZM1327 281h1V297h-1ZM1328 281h1V342h-1ZM1329 306h1V327h-1ZM1330 281h1V342h-1ZM1331 281h1V308h-1ZM1332 306h1V342h-1ZM1333 281h1V327h-1ZM1334 281h1V308h-1ZM1335 295h1V308h-1ZM1336 271h1V342h-1ZM1337 306h1V342h-1ZM1338 295h1V327h-1ZM1339 295h1V327h-1ZM1340 325h1V327h-1ZM1341 306h1V342h-1ZM1342 295h1V308h-1ZM1343 287h1V308h-1ZM1344 287h1V327h-1ZM1345 306h1V342h-1ZM1346 306h1V327h-1ZM1347 306h1V342h-1ZM1348 287h1V327h-1ZM1349 287h1V327h-1ZM1350 306h1V342h-1ZM1351 306h1V342h-1ZM1352 295h1V308h-1ZM1353 287h1V308h-1ZM1354 306h1V342h-1ZM1355 295h1V308h-1ZM1356 281h1V342h-1ZM1357 281h1V308h-1ZM1358 295h1V327h-1ZM1359 295h1V327h-1ZM1360 306h1V327h-1ZM1361 306h1V327h-1ZM1362 306h1V327h-1ZM1363 306h1V308h-1ZM1364 295h1V308h-1ZM1365 295h1V327h-1ZM1366 295h1V342h-1ZM1367 295h1V327h-1ZM1368 295h1V308h-1ZM1369 287h1V342h-1ZM1370 275h1V308h-1ZM1371 306h1V327h-1ZM1372 287h1V327h-1ZM1373 287h1V342h-1ZM1374 295h1V342h-1ZM1375 306h1V342h-1ZM1376 306h1V342h-1ZM1377 287h1V308h-1ZM1378 295h1V327h-1ZM1379 295h1V308h-1ZM1380 287h1V327h-1ZM1381 281h1V327h-1ZM1382 295h1V342h-1ZM1383 306h1V342h-1ZM1384 275h1V342h-1ZM1385 275h1V327h-1ZM1386 306h1V327h-1ZM1387 295h1V342h-1ZM1388 281h1V342h-1ZM1389 281h1V327h-1ZM1390 281h1V308h-1ZM1391 281h1V327h-1ZM1392 295h1V327h-1ZM1393 264h1V308h-1ZM1394 281h1V289h-1ZM1395 287h1V327h-1ZM1396 287h1V327h-1ZM1397 295h1V327h-1ZM1398 295h1V327h-1ZM1399 287h1V327h-1ZM1400 325h1V327h-1ZM1401 295h1V327h-1ZM1402 306h1V327h-1ZM1403 306h1V342h-1ZM1404 275h1V342h-1ZM1405 271h1V342h-1ZM1406 271h1V327h-1ZM1407 287h1V327h-1ZM1408 306h1V342h-1ZM1409 287h1V308h-1ZM1410 287h1V327h-1ZM1411 275h1V327h-1ZM1412 281h1V342h-1ZM1413 281h1V342h-1ZM1414 281h1V342h-1ZM1415 295h1V308h-1ZM1416 295h1V308h-1ZM1417 295h1V327h-1ZM1418 295h1V297h-1ZM1419 287h1V342h-1ZM1420 287h1V327h-1ZM1421 287h1V327h-1ZM1422 287h1V327h-1ZM1423 295h1V342h-1ZM1424 287h1V327h-1ZM1425 295h1V342h-1ZM1426 295h1V327h-1ZM1427 306h1V342h-1ZM1428 287h1V327h-1ZM1429 295h1V342h-1ZM1430 295h1V342h-1ZM1431 295h1V342h-1ZM1432 281h1V342h-1ZM1433 281h1V327h-1ZM1434 287h1V342h-1ZM1435 325h1V342h-1ZM1436 295h1V342h-1ZM1437 295h1V342h-1ZM1438 295h1V342h-1ZM1439 306h1V327h-1ZM1440 287h1V342h-1ZM1441 287h1V327h-1ZM1442 287h1V308h-1ZM1443 287h1V308h-1ZM1444 287h1V327h-1ZM1445 306h1V327h-1ZM1446 306h1V342h-1ZM1447 306h1V342h-1ZM1448 306h1V342h-1ZM1449 287h1V342h-1ZM1450 306h1V327h-1ZM1451 325h1V342h-1ZM1452 281h1V342h-1ZM1453 281h1V342h-1ZM1454 306h1V342h-1ZM1455 306h1V342h-1ZM1456 295h1V327h-1ZM1457 295h1V342h-1ZM1458 295h1V327h-1ZM1459 325h1V327h-1ZM1460 306h1V327h-1ZM1461 295h1V327h-1ZM1462 295h1V342h-1ZM1463 295h1V342h-1ZM1464 306h1V342h-1ZM1465 306h1V342h-1ZM1466 306h1V342h-1ZM1467 295h1V342h-1ZM1468 295h1V308h-1ZM1469 306h1V342h-1ZM1470 295h1V308h-1ZM1471 306h1V308h-1ZM1472 295h1V342h-1ZM1473 295h1V342h-1ZM1474 295h1V342h-1ZM1475 281h1V297h-1ZM1476 287h1V342h-1ZM1477 287h1V342h-1ZM1478 281h1V342h-1ZM1479 281h1V327h-1ZM1480 295h1V342h-1ZM1481 295h1V342h-1ZM1482 295h1V342h-1ZM1483 325h1V342h-1ZM1484 306h1V327h-1ZM1485 295h1V342h-1ZM1486 295h1V327h-1ZM1487 306h1V327h-1ZM1488 306h1V342h-1ZM1489 281h1V327h-1ZM1490 295h1V327h-1ZM1491 295h1V327h-1ZM1492 306h1V342h-1ZM1493 325h1V342h-1ZM1494 306h1V327h-1ZM1495 295h1V327h-1ZM1496 325h1V327h-1ZM1497 295h1V327h-1ZM1498 287h1V342h-1ZM1499 325h1V342h-1ZM1500 287h1V342h-1ZM1501 287h1V297h-1ZM1502 287h1V342h-1ZM1503 287h1V327h-1ZM1504 306h1V342h-1ZM1505 306h1V342h-1ZM1506 287h1V342h-1ZM1507 306h1V308h-1ZM1508 306h1V327h-1ZM1509 295h1V327h-1ZM1510 295h1V308h-1ZM1511 287h1V327h-1ZM1512 306h1V308h-1ZM1513 306h1V327h-1ZM1514 306h1V342h-1ZM1515 271h1V327h-1ZM1516 325h1V342h-1ZM1517 306h1V342h-1ZM1518 275h1V342h-1ZM1519 287h1V342h-1ZM1520 287h1V327h-1ZM1521 306h1V342h-1ZM1522 295h1V342h-1ZM1523 306h1V342h-1ZM1524 275h1V327h-1ZM1525 275h1V327h-1ZM1526 306h1V327h-1ZM1527 306h1V342h-1ZM1528 287h1V327h-1ZM1529 287h1V327h-1ZM1530 295h1V327h-1ZM1531 306h1V342h-1ZM1532 295h1V342h-1ZM1533 287h1V342h-1ZM1534 306h1V342h-1ZM1535 306h1V327h-1ZM1536 287h1V308h-1ZM1537 295h1V308h-1ZM1538 306h1V327h-1ZM1539 295h1V308h-1ZM1540 306h1V327h-1ZM1541 295h1V327h-1ZM1542 295h1V342h-1ZM1543 325h1V342h-1ZM1544 306h1V327h-1ZM1545 306h1V342h-1ZM1546 287h1V342h-1ZM1547 287h1V327h-1ZM1548 287h1V327h-1ZM1549 306h1V308h-1ZM1550 306h1V342h-1ZM1551 306h1V342h-1ZM1552 295h1V342h-1ZM1553 295h1V308h-1ZM1554 295h1V342h-1ZM1555 295h1V342h-1ZM1556 306h1V342h-1ZM1557 306h1V342h-1ZM1558 306h1V327h-1ZM1559 295h1V342h-1ZM1560 295h1V342h-1ZM1561 306h1V327h-1ZM1562 306h1V327h-1ZM1563 281h1V327h-1ZM1564 281h1V327h-1ZM1565 306h1V327h-1ZM1566 306h1V342h-1ZM1567 306h1V342h-1ZM1568 325h1V342h-1ZM1569 306h1V342h-1ZM1570 295h1V342h-1ZM1571 325h1V342h-1ZM1572 306h1V342h-1ZM1573 306h1V327h-1ZM1574 275h1V327h-1ZM1575 287h1V342h-1ZM1576 287h1V342h-1ZM1577 287h1V327h-1ZM1578 295h1V327h-1ZM1579 325h1V327h-1ZM1580 306h1V342h-1ZM1581 306h1V327h-1ZM1582 295h1V327h-1ZM1583 295h1V342h-1ZM1584 306h1V308h-1ZM1585 295h1V327h-1ZM1586 287h1V327h-1ZM1587 295h1V327h-1ZM1588 295h1V327h-1ZM1589 306h1V327h-1ZM1590 306h1V327h-1ZM1591 295h1V327h-1ZM1592 295h1V327h-1ZM1593 306h1V342h-1ZM1594 295h1V342h-1ZM1595 295h1V342h-1ZM1596 325h1V342h-1ZM1597 287h1V342h-1ZM1598 295h1V327h-1ZM1599 295h1V308h-1ZM1600 295h1V327h-1ZM1601 325h1V342h-1ZM1602 281h1V327h-1ZM1603 281h1V342h-1ZM1604 281h1V342h-1ZM1605 287h1V342h-1ZM1606 295h1V342h-1ZM1607 306h1V342h-1ZM1608 281h1V327h-1ZM1609 287h1V342h-1ZM1610 295h1V327h-1ZM1611 306h1V327h-1ZM1612 306h1V342h-1ZM1613 281h1V327h-1ZM1614 281h1V342h-1ZM1615 287h1V327h-1ZM1616 306h1V342h-1ZM1617 295h1V327h-1ZM1618 287h1V342h-1ZM1619 287h1V342h-1ZM1620 306h1V342h-1ZM1621 295h1V342h-1ZM1622 295h1V327h-1ZM1623 295h1V327h-1ZM1624 281h1V342h-1ZM1625 281h1V342h-1ZM1626 306h1V342h-1ZM1627 287h1V342h-1ZM1628 295h1V342h-1ZM1629 295h1V327h-1ZM1630 287h1V308h-1ZM1631 287h1V342h-1ZM1632 325h1V342h-1ZM1633 287h1V327h-1ZM1634 295h1V342h-1ZM1635 295h1V342h-1ZM1636 306h1V342h-1ZM1637 295h1V327h-1ZM1638 295h1V342h-1ZM1639 306h1V342h-1ZM1640 275h1V342h-1ZM1641 275h1V342h-1ZM1642 306h1V342h-1Z" fill="#c0c0c0"/><path d="M624 190H631V341.5H624Z" fill="#c0c0c0"/><path d="M606.5 341V120M609.5 341V106M612.5 140V104M619.5 150V110M622.5 165V120M625.5 200V137M628.5 200V155M620.5 130V112" stroke="#c8c8c8" fill="none"/><path d="M464 341h2V343h-2ZM465 341h2V343h-2ZM466 341h2V343h-2ZM467 325h2V342h-2ZM468 341h2V343h-2ZM469 341h2V343h-2ZM470 341h2V343h-2ZM471 325h2V342h-2ZM472 341h2V343h-2ZM473 341h2V343h-2ZM474 341h2V343h-2ZM475 341h2V343h-2ZM476 341h2V343h-2ZM477 341h2V343h-2ZM478 325h2V342h-2ZM479 341h2V343h-2ZM480 341h2V343h-2ZM481 341h2V343h-2ZM482 341h2V343h-2ZM483 341h2V343h-2ZM484 341h2V343h-2ZM485 325h2V342h-2ZM486 325h2V342h-2ZM487 325h2V342h-2ZM488 341h2V343h-2ZM489 341h2V343h-2ZM490 341h2V343h-2ZM491 341h2V343h-2ZM492 341h2V343h-2ZM493 325h2V342h-2ZM494 325h2V342h-2ZM495 325h2V342h-2ZM496 341h2V343h-2ZM497 325h2V342h-2ZM498 341h2V343h-2ZM499 325h2V342h-2ZM500 341h2V343h-2ZM501 325h2V342h-2ZM502 325h2V342h-2ZM503 325h2V342h-2ZM504 341h2V343h-2ZM505 325h2V342h-2ZM506 325h2V342h-2ZM507 341h2V343h-2ZM508 341h2V343h-2ZM509 325h2V342h-2ZM510 341h2V343h-2ZM511 325h2V342h-2ZM512 325h2V342h-2ZM513 341h2V343h-2ZM514 325h2V342h-2ZM515 341h2V343h-2ZM516 341h2V343h-2ZM517 341h2V343h-2ZM518 341h2V343h-2ZM519 325h2V342h-2ZM520 325h2V342h-2ZM521 325h2V342h-2ZM522 325h2V342h-2ZM523 325h2V342h-2ZM524 325h2V342h-2ZM525 341h2V343h-2ZM526 341h2V343h-2ZM527 325h2V342h-2ZM528 325h2V342h-2ZM529 325h2V342h-2ZM530 325h2V342h-2ZM531 325h2V342h-2ZM532 341h2V343h-2ZM533 341h2V343h-2ZM534 341h2V343h-2ZM535 325h2V342h-2ZM536 325h2V342h-2ZM537 325h2V342h-2ZM538 325h2V342h-2ZM539 341h2V343h-2ZM540 325h2V342h-2ZM541 325h2V342h-2ZM542 341h2V343h-2ZM543 341h2V343h-2ZM544 325h2V342h-2ZM545 341h2V343h-2ZM546 325h2V342h-2ZM547 325h2V342h-2ZM548 325h2V342h-2ZM549 341h2V343h-2ZM550 325h2V342h-2ZM551 341h2V343h-2ZM552 341h2V343h-2ZM553 341h2V343h-2ZM554 341h2V343h-2ZM555 341h2V343h-2ZM556 341h2V343h-2ZM557 341h2V343h-2ZM558 341h2V343h-2ZM559 341h2V343h-2ZM560 341h2V343h-2ZM561 341h2V343h-2ZM562 341h2V343h-2ZM563 341h2V343h-2ZM564 341h2V343h-2ZM565 341h2V343h-2ZM566 341h2V343h-2ZM567 341h2V343h-2ZM568 341h2V343h-2ZM569 325h2V342h-2ZM570 325h2V342h-2ZM571 325h2V342h-2ZM572 325h2V342h-2ZM573 325h2V342h-2ZM574 325h2V342h-2ZM575 325h2V342h-2ZM576 341h2V343h-2ZM577 341h2V343h-2ZM578 341h2V343h-2ZM579 341h2V343h-2ZM580 325h2V342h-2ZM581 325h2V342h-2ZM582 325h2V342h-2ZM583 306h2V342h-2ZM584 306h2V342h-2ZM585 341h2V343h-2ZM586 325h2V342h-2ZM587 325h2V342h-2ZM588 325h2V342h-2ZM589 325h2V342h-2ZM590 341h2V343h-2ZM591 341h2V343h-2ZM592 325h2V342h-2ZM593 325h2V342h-2ZM594 341h2V343h-2ZM595 341h2V343h-2ZM596 325h2V342h-2ZM597 325h2V342h-2ZM598 341h2V343h-2ZM599 341h2V343h-2ZM600 325h2V342h-2ZM601 325h2V342h-2ZM602 287h2V327h-2ZM603 264h2V327h-2ZM604 241h2V266h-2ZM605 208h2V243h-2ZM606 190h2V210h-2ZM607 181h2V194h-2ZM608 169h2V183h-2ZM609 159h2V171h-2ZM610 149h2V161h-2ZM611 141h2V151h-2ZM612 130h2V143h-2ZM613 127h2V132h-2ZM614 126h2V129h-2ZM615 125h2V128h-2ZM616 126h2V130h-2ZM617 127h2V130h-2ZM618 128h2V136h-2ZM619 134h2V140h-2ZM620 138h2V147h-2ZM621 145h2V151h-2ZM622 149h2V157h-2ZM623 155h2V162h-2ZM624 160h2V168h-2ZM625 166h2V174h-2ZM626 171h2V176h-2ZM627 174h2V179h-2ZM628 176h2V191h-2ZM629 186h2V191h-2ZM630 189h2V202h-2ZM631 199h2V206h-2ZM632 204h2V210h-2ZM633 208h2V216h-2ZM634 210h2V225h-2ZM635 216h2V240h-2ZM636 226h2V240h-2ZM637 236h2V250h-2ZM638 241h2V254h-2ZM639 247h2V273h-2ZM640 256h2V273h-2ZM641 264h2V289h-2ZM642 281h2V308h-2ZM643 287h2V308h-2ZM644 295h2V327h-2ZM645 295h2V342h-2ZM646 281h2V342h-2ZM647 295h2V342h-2ZM648 306h2V342h-2ZM649 287h2V342h-2ZM650 287h2V342h-2ZM651 306h2V342h-2ZM652 306h2V342h-2ZM653 306h2V342h-2ZM654 325h2V327h-2ZM655 325h2V327h-2ZM656 306h2V342h-2ZM657 325h2V342h-2ZM658 325h2V342h-2ZM659 325h2V342h-2ZM660 325h2V327h-2ZM661 325h2V327h-2ZM662 325h2V342h-2ZM663 306h2V342h-2ZM664 341h2V343h-2ZM665 325h2V342h-2ZM666 306h2V342h-2ZM667 325h2V342h-2ZM668 325h2V342h-2ZM669 325h2V342h-2ZM670 341h2V343h-2ZM671 325h2V342h-2ZM672 306h2V342h-2ZM673 341h2V343h-2ZM674 325h2V342h-2ZM675 306h2V342h-2ZM676 325h2V342h-2ZM677 325h2V342h-2ZM678 306h2V342h-2ZM679 325h2V342h-2ZM680 325h2V342h-2ZM681 325h2V342h-2ZM682 341h2V343h-2ZM683 325h2V342h-2ZM684 325h2V342h-2ZM685 325h2V342h-2ZM686 325h2V342h-2ZM687 325h2V342h-2ZM688 325h2V342h-2ZM689 325h2V342h-2ZM690 341h2V343h-2ZM691 341h2V343h-2ZM692 341h2V343h-2ZM693 325h2V342h-2ZM694 325h2V342h-2ZM695 341h2V343h-2ZM696 341h2V343h-2ZM697 341h2V343h-2ZM698 341h2V343h-2ZM699 325h2V342h-2ZM700 325h2V342h-2ZM701 341h2V343h-2ZM702 325h2V342h-2ZM703 341h2V343h-2ZM704 341h2V343h-2ZM705 325h2V342h-2ZM706 325h2V342h-2ZM707 325h2V342h-2ZM708 325h2V342h-2ZM709 341h2V343h-2ZM710 325h2V342h-2ZM711 325h2V342h-2ZM712 325h2V342h-2ZM713 325h2V342h-2ZM714 325h2V342h-2ZM715 341h2V343h-2ZM716 325h2V342h-2ZM717 325h2V342h-2ZM718 325h2V342h-2ZM719 341h2V343h-2ZM720 325h2V342h-2ZM721 325h2V342h-2ZM722 325h2V342h-2ZM723 325h2V342h-2ZM724 341h2V343h-2ZM725 325h2V342h-2ZM726 341h2V343h-2ZM727 325h2V342h-2ZM728 341h2V343h-2ZM729 341h2V343h-2ZM730 325h2V342h-2ZM731 325h2V342h-2ZM732 306h2V342h-2ZM733 325h2V342h-2ZM734 325h2V342h-2ZM735 325h2V342h-2ZM736 325h2V342h-2ZM737 325h2V342h-2ZM738 325h2V342h-2ZM739 341h2V343h-2ZM740 325h2V342h-2ZM741 325h2V342h-2ZM742 325h2V342h-2ZM743 325h2V342h-2ZM744 325h2V342h-2ZM745 325h2V342h-2ZM746 341h2V343h-2ZM747 306h2V342h-2ZM748 341h2V343h-2ZM749 325h2V342h-2ZM750 325h2V342h-2ZM751 325h2V342h-2ZM752 341h2V343h-2ZM753 341h2V343h-2ZM754 341h2V343h-2ZM755 341h2V343h-2ZM756 341h2V343h-2ZM757 341h2V343h-2ZM758 325h2V342h-2ZM759 341h2V343h-2ZM760 325h2V342h-2ZM761 325h2V342h-2ZM762 341h2V343h-2ZM763 341h2V343h-2ZM764 341h2V343h-2ZM765 341h2V343h-2ZM766 325h2V342h-2ZM767 341h2V343h-2ZM768 341h2V343h-2ZM769 325h2V342h-2ZM770 325h2V342h-2ZM771 325h2V342h-2ZM772 325h2V342h-2ZM773 341h2V343h-2ZM774 341h2V343h-2ZM775 341h2V343h-2ZM776 325h2V342h-2ZM777 341h2V343h-2ZM778 341h2V343h-2ZM779 325h2V342h-2ZM780 325h2V342h-2ZM781 341h2V343h-2ZM782 325h2V342h-2ZM783 325h2V342h-2ZM784 325h2V342h-2ZM785 325h2V342h-2ZM786 325h2V342h-2ZM787 325h2V342h-2ZM788 325h2V342h-2ZM789 295h2V342h-2ZM790 325h2V342h-2ZM791 325h2V342h-2ZM792 325h2V342h-2ZM793 341h2V343h-2ZM794 341h2V343h-2ZM795 341h2V343h-2ZM796 341h2V343h-2ZM797 341h2V343h-2ZM798 341h2V343h-2ZM799 341h2V343h-2ZM800 341h2V343h-2ZM801 341h2V343h-2ZM802 325h2V342h-2ZM803 325h2V342h-2ZM804 341h2V343h-2ZM805 341h2V343h-2ZM806 341h2V343h-2ZM807 325h2V342h-2ZM808 325h2V342h-2ZM809 325h2V342h-2ZM810 325h2V342h-2ZM811 325h2V342h-2ZM812 325h2V342h-2ZM813 341h2V343h-2ZM814 325h2V342h-2ZM815 325h2V342h-2ZM816 341h2V343h-2ZM817 341h2V343h-2ZM818 341h2V343h-2ZM819 325h2V342h-2ZM820 341h2V343h-2ZM821 341h2V343h-2ZM822 341h2V343h-2ZM823 295h2V342h-2ZM824 325h2V342h-2ZM825 341h2V343h-2ZM826 341h2V343h-2ZM827 341h2V343h-2ZM828 341h2V343h-2ZM829 341h2V343h-2ZM830 341h2V343h-2ZM831 325h2V342h-2ZM832 341h2V343h-2ZM833 325h2V342h-2ZM834 325h2V342h-2ZM835 341h2V343h-2ZM836 341h2V343h-2ZM837 341h2V343h-2ZM838 325h2V342h-2ZM839 325h2V342h-2ZM840 325h2V342h-2ZM841 325h2V342h-2ZM842 341h2V343h-2ZM843 325h2V342h-2ZM844 306h2V342h-2ZM845 325h2V342h-2ZM846 325h2V342h-2ZM847 341h2V343h-2ZM848 325h2V342h-2ZM849 325h2V342h-2ZM850 341h2V343h-2ZM851 341h2V343h-2ZM852 306h2V342h-2ZM853 325h2V342h-2ZM854 341h2V343h-2ZM855 341h2V343h-2ZM856 341h2V343h-2ZM857 325h2V342h-2ZM858 325h2V342h-2ZM859 325h2V342h-2ZM860 325h2V342h-2ZM861 325h2V342h-2ZM862 325h2V342h-2ZM863 325h2V342h-2ZM864 341h2V343h-2ZM865 341h2V343h-2ZM866 341h2V343h-2ZM867 341h2V343h-2ZM868 325h2V342h-2ZM869 341h2V343h-2ZM870 325h2V342h-2ZM871 325h2V342h-2ZM872 306h2V342h-2ZM873 306h2V342h-2ZM874 341h2V343h-2ZM875 341h2V343h-2ZM876 341h2V343h-2ZM877 341h2V343h-2ZM878 341h2V343h-2ZM879 341h2V343h-2ZM880 325h2V342h-2ZM881 325h2V342h-2ZM882 325h2V342h-2ZM883 325h2V342h-2ZM884 341h2V343h-2ZM885 325h2V342h-2ZM886 325h2V342h-2ZM887 325h2V342h-2ZM888 325h2V342h-2ZM889 341h2V343h-2ZM890 325h2V342h-2ZM891 325h2V342h-2ZM892 325h2V342h-2ZM893 341h2V343h-2ZM894 341h2V343h-2ZM895 325h2V342h-2ZM896 325h2V342h-2ZM897 341h2V343h-2ZM898 325h2V342h-2ZM899 325h2V342h-2ZM900 325h2V342h-2ZM901 341h2V343h-2ZM902 306h2V342h-2ZM903 325h2V342h-2ZM904 325h2V342h-2ZM905 341h2V343h-2ZM906 341h2V343h-2ZM907 341h2V343h-2ZM908 341h2V343h-2ZM909 325h2V342h-2ZM910 325h2V342h-2ZM911 341h2V343h-2ZM912 295h2V342h-2ZM913 306h2V342h-2ZM914 325h2V342h-2ZM915 325h2V342h-2ZM916 325h2V342h-2ZM917 325h2V342h-2ZM918 341h2V343h-2ZM919 325h2V342h-2ZM920 325h2V342h-2ZM921 325h2V342h-2ZM922 325h2V342h-2ZM923 325h2V342h-2ZM924 325h2V342h-2ZM925 325h2V342h-2ZM926 341h2V343h-2ZM927 341h2V343h-2ZM928 325h2V342h-2ZM929 325h2V342h-2ZM930 325h2V342h-2ZM931 341h2V343h-2ZM932 341h2V343h-2ZM933 325h2V342h-2ZM934 341h2V343h-2ZM935 325h2V342h-2ZM936 325h2V342h-2ZM937 341h2V343h-2ZM938 325h2V342h-2ZM939 325h2V342h-2ZM940 325h2V342h-2ZM941 325h2V342h-2ZM942 325h2V342h-2ZM943 341h2V343h-2ZM944 325h2V342h-2ZM945 306h2V342h-2ZM946 341h2V343h-2ZM947 341h2V343h-2ZM948 306h2V342h-2ZM949 306h2V342h-2ZM950 341h2V343h-2ZM951 341h2V343h-2ZM952 341h2V343h-2ZM953 341h2V343h-2ZM954 325h2V342h-2ZM955 325h2V342h-2ZM956 341h2V343h-2ZM957 325h2V342h-2ZM958 325h2V342h-2ZM959 341h2V343h-2ZM960 341h2V343h-2ZM961 306h2V342h-2ZM962 306h2V342h-2ZM963 306h2V342h-2ZM964 325h2V342h-2ZM965 341h2V343h-2ZM966 325h2V342h-2ZM967 325h2V342h-2ZM968 341h2V343h-2ZM969 325h2V342h-2ZM970 325h2V342h-2ZM971 341h2V343h-2ZM972 341h2V343h-2ZM973 341h2V343h-2ZM974 341h2V343h-2ZM975 341h2V343h-2ZM976 325h2V342h-2ZM977 325h2V342h-2ZM978 295h2V342h-2ZM979 341h2V343h-2ZM980 325h2V342h-2ZM981 325h2V342h-2ZM982 306h2V342h-2ZM983 341h2V343h-2ZM984 341h2V343h-2ZM985 325h2V342h-2ZM986 341h2V343h-2ZM987 306h2V342h-2ZM988 306h2V342h-2ZM989 325h2V342h-2ZM990 341h2V343h-2ZM991 325h2V342h-2ZM992 341h2V343h-2ZM993 325h2V342h-2ZM994 341h2V343h-2ZM995 341h2V343h-2ZM996 325h2V342h-2ZM997 295h2V327h-2ZM998 325h2V342h-2ZM999 325h2V342h-2ZM1000 325h2V342h-2ZM1001 325h2V342h-2ZM1002 325h2V342h-2ZM1003 325h2V342h-2ZM1004 295h2V342h-2ZM1005 325h2V342h-2ZM1006 341h2V343h-2ZM1007 341h2V343h-2ZM1008 341h2V343h-2ZM1009 325h2V342h-2ZM1010 341h2V343h-2ZM1011 341h2V343h-2ZM1012 325h2V342h-2ZM1013 325h2V342h-2ZM1014 341h2V343h-2ZM1015 325h2V342h-2ZM1016 341h2V343h-2ZM1017 325h2V342h-2ZM1018 325h2V342h-2ZM1019 325h2V342h-2ZM1020 325h2V342h-2ZM1021 325h2V342h-2ZM1022 341h2V343h-2ZM1023 341h2V343h-2ZM1024 341h2V343h-2ZM1025 341h2V343h-2ZM1026 325h2V342h-2ZM1027 325h2V342h-2ZM1028 325h2V342h-2ZM1029 341h2V343h-2ZM1030 325h2V342h-2ZM1031 325h2V342h-2ZM1032 295h2V342h-2ZM1033 295h2V342h-2ZM1034 295h2V342h-2ZM1035 341h2V343h-2ZM1036 341h2V343h-2ZM1037 341h2V343h-2ZM1038 325h2V342h-2ZM1039 341h2V343h-2ZM1040 341h2V343h-2ZM1041 325h2V342h-2ZM1042 325h2V342h-2ZM1043 341h2V343h-2ZM1044 295h2V342h-2ZM1045 341h2V343h-2ZM1046 325h2V342h-2ZM1047 341h2V343h-2ZM1048 325h2V342h-2ZM1049 325h2V342h-2ZM1050 325h2V342h-2ZM1051 325h2V342h-2ZM1052 325h2V342h-2ZM1053 325h2V342h-2ZM1054 341h2V343h-2ZM1055 341h2V343h-2ZM1056 341h2V343h-2ZM1057 325h2V342h-2ZM1058 325h2V342h-2ZM1059 306h2V342h-2ZM1060 341h2V343h-2ZM1061 341h2V343h-2ZM1062 325h2V342h-2ZM1063 341h2V343h-2ZM1064 341h2V343h-2ZM1065 295h2V342h-2ZM1066 325h2V342h-2ZM1067 341h2V343h-2ZM1068 325h2V342h-2ZM1069 325h2V342h-2ZM1070 341h2V343h-2ZM1071 325h2V342h-2ZM1072 341h2V343h-2ZM1073 341h2V343h-2ZM1074 341h2V343h-2ZM1075 341h2V343h-2ZM1076 341h2V343h-2ZM1077 325h2V342h-2ZM1078 325h2V342h-2ZM1079 341h2V343h-2ZM1080 341h2V343h-2ZM1081 341h2V343h-2ZM1082 341h2V343h-2ZM1083 325h2V342h-2ZM1084 325h2V342h-2ZM1085 325h2V342h-2ZM1086 325h2V342h-2ZM1087 341h2V343h-2ZM1088 341h2V343h-2ZM1089 325h2V342h-2ZM1090 325h2V342h-2ZM1091 325h2V342h-2ZM1092 325h2V342h-2ZM1093 325h2V342h-2ZM1094 341h2V343h-2ZM1095 325h2V342h-2ZM1096 341h2V343h-2ZM1097 341h2V343h-2ZM1098 325h2V342h-2ZM1099 341h2V343h-2ZM1100 325h2V342h-2ZM1101 341h2V343h-2ZM1102 341h2V343h-2ZM1103 341h2V343h-2ZM1104 341h2V343h-2ZM1105 341h2V343h-2ZM1106 341h2V343h-2ZM1107 341h2V343h-2ZM1108 325h2V342h-2ZM1109 325h2V342h-2ZM1110 325h2V342h-2ZM1111 325h2V342h-2ZM1112 325h2V342h-2ZM1113 325h2V342h-2ZM1114 325h2V342h-2ZM1115 341h2V343h-2ZM1116 341h2V343h-2ZM1117 341h2V343h-2ZM1118 325h2V342h-2ZM1119 341h2V343h-2ZM1120 325h2V342h-2ZM1121 325h2V342h-2ZM1122 325h2V342h-2ZM1123 325h2V342h-2ZM1124 341h2V343h-2ZM1125 325h2V342h-2ZM1126 325h2V327h-2ZM1127 325h2V342h-2ZM1128 341h2V343h-2ZM1129 341h2V343h-2ZM1130 325h2V342h-2ZM1131 325h2V342h-2ZM1132 341h2V343h-2ZM1133 341h2V343h-2ZM1134 341h2V343h-2ZM1135 341h2V343h-2ZM1136 341h2V343h-2ZM1137 341h2V343h-2ZM1138 341h2V343h-2ZM1139 341h2V343h-2ZM1140 325h2V342h-2ZM1141 325h2V342h-2ZM1142 325h2V342h-2ZM1143 341h2V343h-2ZM1144 341h2V343h-2ZM1145 341h2V343h-2ZM1146 341h2V343h-2ZM1147 341h2V343h-2ZM1148 341h2V343h-2ZM1149 325h2V342h-2ZM1150 325h2V342h-2ZM1151 341h2V343h-2ZM1152 306h2V342h-2ZM1153 341h2V343h-2ZM1154 341h2V343h-2ZM1155 325h2V342h-2ZM1156 325h2V342h-2ZM1157 325h2V342h-2ZM1158 325h2V342h-2ZM1159 325h2V342h-2ZM1160 341h2V343h-2ZM1161 325h2V342h-2ZM1162 341h2V343h-2ZM1163 341h2V343h-2ZM1164 325h2V342h-2ZM1165 325h2V342h-2ZM1166 325h2V342h-2ZM1167 341h2V343h-2ZM1168 325h2V342h-2ZM1169 325h2V342h-2ZM1170 341h2V343h-2ZM1171 341h2V343h-2ZM1172 341h2V343h-2ZM1173 325h2V342h-2ZM1174 341h2V343h-2ZM1175 341h2V343h-2ZM1176 325h2V342h-2ZM1177 325h2V342h-2ZM1178 341h2V343h-2ZM1179 325h2V342h-2ZM1180 325h2V342h-2ZM1181 341h2V343h-2ZM1182 325h2V342h-2ZM1183 325h2V342h-2ZM1184 325h2V342h-2ZM1185 341h2V343h-2ZM1186 325h2V342h-2ZM1187 325h2V342h-2ZM1188 325h2V342h-2ZM1189 341h2V343h-2ZM1190 341h2V343h-2ZM1191 341h2V343h-2ZM1192 341h2V343h-2ZM1193 325h2V342h-2ZM1194 325h2V342h-2ZM1195 341h2V343h-2ZM1196 325h2V342h-2ZM1197 325h2V342h-2ZM1198 325h2V342h-2ZM1199 341h2V343h-2ZM1200 325h2V342h-2ZM1201 325h2V342h-2ZM1202 325h2V342h-2ZM1203 325h2V342h-2ZM1204 341h2V343h-2ZM1205 341h2V343h-2ZM1206 341h2V343h-2ZM1207 341h2V343h-2ZM1208 341h2V343h-2ZM1209 341h2V343h-2ZM1210 325h2V342h-2ZM1211 341h2V343h-2ZM1212 306h2V342h-2ZM1213 306h2V342h-2ZM1214 325h2V342h-2ZM1215 341h2V343h-2ZM1216 325h2V342h-2ZM1217 325h2V342h-2ZM1218 341h2V343h-2ZM1219 325h2V342h-2ZM1220 341h2V343h-2ZM1221 341h2V343h-2ZM1222 341h2V343h-2ZM1223 341h2V343h-2ZM1224 341h2V343h-2ZM1225 325h2V342h-2ZM1226 325h2V342h-2ZM1227 341h2V343h-2ZM1228 306h2V342h-2ZM1229 306h2V342h-2ZM1230 325h2V342h-2ZM1231 325h2V342h-2ZM1232 325h2V342h-2ZM1233 325h2V342h-2ZM1234 341h2V343h-2ZM1235 341h2V343h-2ZM1236 341h2V343h-2ZM1237 325h2V342h-2ZM1238 341h2V343h-2ZM1239 341h2V343h-2ZM1240 341h2V343h-2ZM1241 306h2V342h-2ZM1242 325h2V342h-2ZM1243 325h2V342h-2ZM1244 341h2V343h-2ZM1245 341h2V343h-2ZM1246 325h2V342h-2ZM1247 325h2V342h-2ZM1248 325h2V342h-2ZM1249 306h2V342h-2ZM1250 306h2V342h-2ZM1251 341h2V343h-2ZM1252 341h2V343h-2ZM1253 341h2V343h-2ZM1254 341h2V343h-2ZM1255 341h2V343h-2ZM1256 325h2V342h-2ZM1257 325h2V342h-2ZM1258 325h2V342h-2ZM1259 325h2V342h-2ZM1260 325h2V342h-2ZM1261 341h2V343h-2ZM1262 325h2V342h-2ZM1263 325h2V342h-2ZM1264 341h2V343h-2ZM1265 341h2V343h-2ZM1266 341h2V343h-2ZM1267 341h2V343h-2ZM1268 325h2V342h-2ZM1269 341h2V343h-2ZM1270 341h2V343h-2ZM1271 325h2V342h-2ZM1272 341h2V343h-2ZM1273 325h2V342h-2ZM1274 341h2V343h-2ZM1275 325h2V342h-2ZM1276 325h2V342h-2ZM1277 341h2V343h-2ZM1278 325h2V342h-2ZM1279 325h2V342h-2ZM1280 341h2V343h-2ZM1281 341h2V343h-2ZM1282 325h2V342h-2ZM1283 325h2V342h-2ZM1284 341h2V343h-2ZM1285 325h2V342h-2ZM1286 325h2V342h-2ZM1287 341h2V343h-2ZM1288 341h2V343h-2ZM1289 341h2V343h-2ZM1290 325h2V342h-2ZM1291 325h2V342h-2ZM1292 325h2V342h-2ZM1293 341h2V343h-2ZM1294 325h2V342h-2ZM1295 325h2V342h-2ZM1296 325h2V342h-2ZM1297 325h2V342h-2ZM1298 306h2V342h-2ZM1299 306h2V327h-2ZM1300 325h2V342h-2ZM1301 341h2V343h-2ZM1302 341h2V343h-2ZM1303 325h2V342h-2ZM1304 325h2V342h-2ZM1305 341h2V343h-2ZM1306 325h2V342h-2ZM1307 325h2V342h-2ZM1308 341h2V343h-2ZM1309 325h2V342h-2ZM1310 341h2V343h-2ZM1311 341h2V343h-2ZM1312 325h2V342h-2ZM1313 325h2V342h-2ZM1314 325h2V342h-2ZM1315 325h2V342h-2ZM1316 341h2V343h-2ZM1317 341h2V343h-2ZM1318 341h2V343h-2ZM1319 325h2V342h-2ZM1320 325h2V342h-2ZM1321 341h2V343h-2ZM1322 341h2V343h-2ZM1323 325h2V342h-2ZM1324 325h2V342h-2ZM1325 325h2V342h-2ZM1326 341h2V343h-2ZM1327 325h2V342h-2ZM1328 341h2V343h-2ZM1329 325h2V342h-2ZM1330 341h2V343h-2ZM1331 341h2V343h-2ZM1332 325h2V342h-2ZM1333 341h2V343h-2ZM1334 341h2V343h-2ZM1335 341h2V343h-2ZM1336 341h2V343h-2ZM1337 306h2V342h-2ZM1338 306h2V342h-2ZM1339 341h2V343h-2ZM1340 341h2V343h-2ZM1341 325h2V342h-2ZM1342 341h2V343h-2ZM1343 341h2V343h-2ZM1344 341h2V343h-2ZM1345 341h2V343h-2ZM1346 341h2V343h-2ZM1347 341h2V343h-2ZM1348 325h2V342h-2ZM1349 325h2V342h-2ZM1350 341h2V343h-2ZM1351 341h2V343h-2ZM1352 341h2V343h-2ZM1353 325h2V342h-2ZM1354 341h2V343h-2ZM1355 341h2V343h-2ZM1356 341h2V343h-2ZM1357 341h2V343h-2ZM1358 341h2V343h-2ZM1359 341h2V343h-2ZM1360 341h2V343h-2ZM1361 341h2V343h-2ZM1362 341h2V343h-2ZM1363 341h2V343h-2ZM1364 341h2V343h-2ZM1365 325h2V342h-2ZM1366 325h2V342h-2ZM1367 325h2V342h-2ZM1368 325h2V342h-2ZM1369 325h2V342h-2ZM1370 341h2V343h-2ZM1371 341h2V343h-2ZM1372 341h2V343h-2ZM1373 325h2V342h-2ZM1374 325h2V342h-2ZM1375 325h2V342h-2ZM1376 306h2V342h-2ZM1377 325h2V342h-2ZM1378 341h2V343h-2ZM1379 325h2V342h-2ZM1380 341h2V343h-2ZM1381 325h2V342h-2ZM1382 325h2V342h-2ZM1383 325h2V342h-2ZM1384 341h2V343h-2ZM1385 341h2V343h-2ZM1386 341h2V343h-2ZM1387 325h2V342h-2ZM1388 325h2V342h-2ZM1389 341h2V343h-2ZM1390 341h2V343h-2ZM1391 341h2V343h-2ZM1392 325h2V342h-2ZM1393 325h2V342h-2ZM1394 325h2V342h-2ZM1395 341h2V343h-2ZM1396 341h2V343h-2ZM1397 341h2V343h-2ZM1398 325h2V342h-2ZM1399 325h2V342h-2ZM1400 325h2V342h-2ZM1401 341h2V343h-2ZM1402 325h2V342h-2ZM1403 341h2V343h-2ZM1404 341h2V343h-2ZM1405 341h2V343h-2ZM1406 341h2V343h-2ZM1407 341h2V343h-2ZM1408 325h2V342h-2ZM1409 341h2V343h-2ZM1410 341h2V343h-2ZM1411 341h2V343h-2ZM1412 341h2V343h-2ZM1413 325h2V342h-2ZM1414 325h2V342h-2ZM1415 341h2V343h-2ZM1416 341h2V343h-2ZM1417 325h2V342h-2ZM1418 325h2V342h-2ZM1419 341h2V343h-2ZM1420 341h2V343h-2ZM1421 341h2V343h-2ZM1422 341h2V343h-2ZM1423 341h2V343h-2ZM1424 341h2V343h-2ZM1425 341h2V343h-2ZM1426 325h2V342h-2ZM1427 325h2V342h-2ZM1428 341h2V343h-2ZM1429 341h2V343h-2ZM1430 341h2V343h-2ZM1431 341h2V343h-2ZM1432 306h2V342h-2ZM1433 341h2V343h-2ZM1434 325h2V342h-2ZM1435 341h2V343h-2ZM1436 325h2V342h-2ZM1437 325h2V342h-2ZM1438 325h2V342h-2ZM1439 325h2V342h-2ZM1440 306h2V342h-2ZM1441 325h2V342h-2ZM1442 325h2V342h-2ZM1443 341h2V343h-2ZM1444 341h2V343h-2ZM1445 295h2V342h-2ZM1446 341h2V343h-2ZM1447 341h2V343h-2ZM1448 325h2V342h-2ZM1449 341h2V343h-2ZM1450 341h2V343h-2ZM1451 341h2V343h-2ZM1452 341h2V343h-2ZM1453 325h2V342h-2ZM1454 325h2V342h-2ZM1455 325h2V342h-2ZM1456 325h2V342h-2ZM1457 325h2V342h-2ZM1458 341h2V343h-2ZM1459 341h2V343h-2ZM1460 325h2V342h-2ZM1461 325h2V342h-2ZM1462 325h2V342h-2ZM1463 341h2V343h-2ZM1464 306h2V342h-2ZM1465 341h2V343h-2ZM1466 325h2V342h-2ZM1467 325h2V342h-2ZM1468 325h2V342h-2ZM1469 325h2V342h-2ZM1470 325h2V342h-2ZM1471 325h2V342h-2ZM1472 325h2V342h-2ZM1473 325h2V342h-2ZM1474 325h2V342h-2ZM1475 341h2V343h-2ZM1476 341h2V343h-2ZM1477 325h2V342h-2ZM1478 325h2V342h-2ZM1479 325h2V342h-2ZM1480 341h2V343h-2ZM1481 341h2V343h-2ZM1482 341h2V343h-2ZM1483 341h2V343h-2ZM1484 341h2V343h-2ZM1485 341h2V343h-2ZM1486 341h2V343h-2ZM1487 325h2V342h-2ZM1488 341h2V343h-2ZM1489 325h2V342h-2ZM1490 325h2V342h-2ZM1491 341h2V343h-2ZM1492 325h2V342h-2ZM1493 341h2V343h-2ZM1494 341h2V343h-2ZM1495 325h2V342h-2ZM1496 341h2V343h-2ZM1497 325h2V342h-2ZM1498 341h2V343h-2ZM1499 341h2V343h-2ZM1500 325h2V342h-2ZM1501 325h2V327h-2ZM1502 325h2V342h-2ZM1503 341h2V343h-2ZM1504 341h2V343h-2ZM1505 325h2V342h-2ZM1506 325h2V342h-2ZM1507 306h2V342h-2ZM1508 325h2V342h-2ZM1509 341h2V343h-2ZM1510 341h2V343h-2ZM1511 341h2V343h-2ZM1512 341h2V343h-2ZM1513 325h2V342h-2ZM1514 306h2V342h-2ZM1515 306h2V342h-2ZM1516 325h2V342h-2ZM1517 341h2V343h-2ZM1518 325h2V342h-2ZM1519 341h2V343h-2ZM1520 325h2V342h-2ZM1521 325h2V342h-2ZM1522 325h2V342h-2ZM1523 325h2V342h-2ZM1524 341h2V343h-2ZM1525 325h2V342h-2ZM1526 295h2V342h-2ZM1527 325h2V342h-2ZM1528 341h2V343h-2ZM1529 325h2V342h-2ZM1530 325h2V342h-2ZM1531 325h2V342h-2ZM1532 325h2V342h-2ZM1533 325h2V342h-2ZM1534 341h2V343h-2ZM1535 325h2V342h-2ZM1536 325h2V342h-2ZM1537 325h2V342h-2ZM1538 325h2V342h-2ZM1539 341h2V343h-2ZM1540 341h2V343h-2ZM1541 325h2V342h-2ZM1542 341h2V343h-2ZM1543 341h2V343h-2ZM1544 325h2V342h-2ZM1545 341h2V343h-2ZM1546 341h2V343h-2ZM1547 341h2V343h-2ZM1548 325h2V342h-2ZM1549 325h2V342h-2ZM1550 341h2V343h-2ZM1551 341h2V343h-2ZM1552 341h2V343h-2ZM1553 325h2V342h-2ZM1554 341h2V343h-2ZM1555 341h2V343h-2ZM1556 341h2V343h-2ZM1557 325h2V342h-2ZM1558 325h2V342h-2ZM1559 325h2V342h-2ZM1560 325h2V342h-2ZM1561 325h2V342h-2ZM1562 341h2V343h-2ZM1563 341h2V343h-2ZM1564 341h2V343h-2ZM1565 341h2V343h-2ZM1566 325h2V342h-2ZM1567 325h2V342h-2ZM1568 295h2V342h-2ZM1569 295h2V342h-2ZM1570 325h2V342h-2ZM1571 325h2V342h-2ZM1572 341h2V343h-2ZM1573 325h2V342h-2ZM1574 325h2V342h-2ZM1575 325h2V342h-2ZM1576 341h2V343h-2ZM1577 325h2V342h-2ZM1578 325h2V342h-2ZM1579 325h2V342h-2ZM1580 325h2V342h-2ZM1581 325h2V342h-2ZM1582 325h2V342h-2ZM1583 341h2V343h-2ZM1584 341h2V343h-2ZM1585 341h2V343h-2ZM1586 341h2V343h-2ZM1587 341h2V343h-2ZM1588 341h2V343h-2ZM1589 306h2V342h-2ZM1590 325h2V342h-2ZM1591 341h2V343h-2ZM1592 341h2V343h-2ZM1593 341h2V343h-2ZM1594 325h2V342h-2ZM1595 325h2V342h-2ZM1596 341h2V343h-2ZM1597 341h2V343h-2ZM1598 341h2V343h-2ZM1599 341h2V343h-2ZM1600 341h2V343h-2ZM1601 325h2V342h-2ZM1602 325h2V342h-2ZM1603 341h2V343h-2ZM1604 341h2V343h-2ZM1605 341h2V343h-2ZM1606 325h2V342h-2ZM1607 306h2V342h-2ZM1608 306h2V342h-2ZM1609 341h2V343h-2ZM1610 325h2V342h-2ZM1611 341h2V343h-2ZM1612 341h2V343h-2ZM1613 341h2V343h-2ZM1614 341h2V343h-2ZM1615 341h2V343h-2ZM1616 325h2V342h-2ZM1617 341h2V343h-2ZM1618 325h2V342h-2ZM1619 341h2V343h-2ZM1620 341h2V343h-2ZM1621 325h2V342h-2ZM1622 325h2V342h-2ZM1623 341h2V343h-2ZM1624 325h2V342h-2ZM1625 341h2V343h-2ZM1626 325h2V342h-2ZM1627 325h2V342h-2ZM1628 325h2V342h-2ZM1629 325h2V342h-2ZM1630 325h2V342h-2ZM1631 325h2V342h-2ZM1632 325h2V342h-2ZM1633 341h2V343h-2ZM1634 341h2V343h-2ZM1635 341h2V343h-2ZM1636 341h2V343h-2ZM1637 341h2V343h-2ZM1638 341h2V343h-2ZM1639 341h2V343h-2ZM1640 325h2V342h-2ZM1641 325h2V342h-2ZM1642 341h2V343h-2Z" fill="#ff0000"/><path d="M464 341h2V343h-2ZM465 325h2V342h-2ZM466 325h2V342h-2ZM467 306h2V342h-2ZM468 306h2V342h-2ZM469 325h2V342h-2ZM470 325h2V342h-2ZM471 325h2V342h-2ZM472 295h2V342h-2ZM473 295h2V342h-2ZM474 325h2V342h-2ZM475 325h2V342h-2ZM476 325h2V342h-2ZM477 325h2V342h-2ZM478 341h2V343h-2ZM479 341h2V343h-2ZM480 341h2V343h-2ZM481 341h2V343h-2ZM482 325h2V342h-2ZM483 325h2V327h-2ZM484 325h2V342h-2ZM485 325h2V342h-2ZM486 325h2V342h-2ZM487 325h2V342h-2ZM488 306h2V342h-2ZM489 325h2V342h-2ZM490 325h2V342h-2ZM491 325h2V342h-2ZM492 341h2V343h-2ZM493 341h2V343h-2ZM494 306h2V342h-2ZM495 306h2V342h-2ZM496 341h2V343h-2ZM497 325h2V342h-2ZM498 325h2V342h-2ZM499 306h2V342h-2ZM500 306h2V342h-2ZM501 325h2V342h-2ZM502 325h2V342h-2ZM503 295h2V342h-2ZM504 341h2V343h-2ZM505 295h2V342h-2ZM506 295h2V342h-2ZM507 306h2V327h-2ZM508 325h2V342h-2ZM509 325h2V342h-2ZM510 341h2V343h-2ZM511 325h2V342h-2ZM512 325h2V342h-2ZM513 306h2V342h-2ZM514 325h2V342h-2ZM515 325h2V342h-2ZM516 325h2V342h-2ZM517 325h2V342h-2ZM518 341h2V343h-2ZM519 341h2V343h-2ZM520 306h2V342h-2ZM521 287h2V342h-2ZM522 287h2V342h-2ZM523 325h2V342h-2ZM524 325h2V342h-2ZM525 295h2V327h-2ZM526 325h2V342h-2ZM527 325h2V342h-2ZM528 325h2V342h-2ZM529 325h2V342h-2ZM530 325h2V342h-2ZM531 325h2V342h-2ZM532 325h2V342h-2ZM533 325h2V342h-2ZM534 341h2V343h-2ZM535 325h2V342h-2ZM536 306h2V342h-2ZM537 325h2V342h-2ZM538 295h2V342h-2ZM539 325h2V342h-2ZM540 325h2V342h-2ZM541 306h2V342h-2ZM542 306h2V327h-2ZM543 325h2V342h-2ZM544 341h2V343h-2ZM545 341h2V343h-2ZM546 325h2V342h-2ZM547 325h2V342h-2ZM548 325h2V342h-2ZM549 325h2V342h-2ZM550 325h2V342h-2ZM551 306h2V342h-2ZM552 306h2V342h-2ZM553 325h2V342h-2ZM554 306h2V327h-2ZM555 306h2V342h-2ZM556 306h2V342h-2ZM557 306h2V342h-2ZM558 341h2V343h-2ZM559 325h2V342h-2ZM560 325h2V342h-2ZM561 325h2V342h-2ZM562 306h2V342h-2ZM563 325h2V342h-2ZM564 325h2V342h-2ZM565 325h2V327h-2ZM566 325h2V342h-2ZM567 325h2V342h-2ZM568 325h2V342h-2ZM569 325h2V342h-2ZM570 306h2V342h-2ZM571 306h2V327h-2ZM572 325h2V342h-2ZM573 325h2V342h-2ZM574 325h2V342h-2ZM575 325h2V327h-2ZM576 325h2V342h-2ZM577 325h2V342h-2ZM578 295h2V342h-2ZM579 325h2V342h-2ZM580 341h2V343h-2ZM581 325h2V342h-2ZM582 306h2V342h-2ZM583 306h2V342h-2ZM584 306h2V342h-2ZM585 306h2V342h-2ZM586 325h2V342h-2ZM587 325h2V342h-2ZM588 325h2V342h-2ZM589 306h2V342h-2ZM590 306h2V342h-2ZM591 325h2V342h-2ZM592 325h2V342h-2ZM593 325h2V342h-2ZM594 325h2V342h-2ZM595 325h2V342h-2ZM596 325h2V342h-2ZM597 306h2V342h-2ZM598 287h2V327h-2ZM599 271h2V289h-2ZM600 271h2V289h-2ZM601 248h2V273h-2ZM602 223h2V254h-2ZM603 214h2V225h-2ZM604 194h2V216h-2ZM605 184h2V198h-2ZM606 170h2V186h-2ZM607 162h2V172h-2ZM608 150h2V164h-2ZM609 139h2V152h-2ZM610 137h2V141h-2ZM611 137h2V140h-2ZM612 135h2V139h-2ZM613 134h2V139h-2ZM614 132h2V139h-2ZM615 131h2V135h-2ZM616 130h2V133h-2ZM617 130h2V132h-2ZM618 129h2V133h-2ZM619 129h2V131h-2ZM620 127h2V131h-2ZM621 127h2V132h-2ZM622 127h2V131h-2ZM623 128h2V131h-2ZM624 128h2V131h-2ZM625 129h2V132h-2ZM626 128h2V131h-2ZM627 128h2V131h-2ZM628 128h2V133h-2ZM629 130h2V133h-2ZM630 130h2V133h-2ZM631 131h2V133h-2ZM632 130h2V135h-2ZM633 130h2V134h-2ZM634 132h2V135h-2ZM635 131h2V136h-2ZM636 134h2V136h-2ZM637 134h2V138h-2ZM638 135h2V137h-2ZM639 134h2V138h-2ZM640 134h2V138h-2ZM641 136h2V139h-2ZM642 137h2V139h-2ZM643 137h2V140h-2ZM644 137h2V139h-2ZM645 137h2V141h-2ZM646 137h2V142h-2ZM647 138h2V142h-2ZM648 138h2V144h-2ZM649 139h2V142h-2ZM650 140h2V143h-2ZM651 140h2V145h-2ZM652 141h2V145h-2ZM653 142h2V146h-2ZM654 140h2V146h-2ZM655 140h2V146h-2ZM656 143h2V146h-2ZM657 143h2V148h-2ZM658 143h2V148h-2ZM659 144h2V147h-2ZM660 144h2V148h-2ZM661 145h2V149h-2ZM662 145h2V149h-2ZM663 145h2V149h-2ZM664 145h2V149h-2ZM665 147h2V150h-2ZM666 145h2V150h-2ZM667 147h2V150h-2ZM668 148h2V153h-2ZM669 148h2V153h-2ZM670 149h2V154h-2ZM671 149h2V154h-2ZM672 149h2V155h-2ZM673 150h2V155h-2ZM674 151h2V155h-2ZM675 152h2V155h-2ZM676 151h2V156h-2ZM677 151h2V156h-2ZM678 151h2V156h-2ZM679 152h2V156h-2ZM680 152h2V156h-2ZM681 153h2V158h-2ZM682 155h2V158h-2ZM683 154h2V158h-2ZM684 154h2V159h-2ZM685 155h2V159h-2ZM686 155h2V160h-2ZM687 155h2V161h-2ZM688 157h2V161h-2ZM689 156h2V160h-2ZM690 158h2V164h-2ZM691 158h2V162h-2ZM692 158h2V163h-2ZM693 159h2V163h-2ZM694 159h2V163h-2ZM695 159h2V166h-2ZM696 161h2V165h-2ZM697 159h2V165h-2ZM698 159h2V165h-2ZM699 161h2V167h-2ZM700 162h2V166h-2ZM701 160h2V166h-2ZM702 160h2V168h-2ZM703 163h2V169h-2ZM704 162h2V169h-2ZM705 163h2V170h-2ZM706 164h2V170h-2ZM707 164h2V171h-2ZM708 164h2V173h-2ZM709 163h2V167h-2ZM710 163h2V170h-2ZM711 167h2V171h-2ZM712 168h2V170h-2ZM713 168h2V173h-2ZM714 166h2V172h-2ZM715 166h2V172h-2ZM716 166h2V174h-2ZM717 168h2V174h-2ZM718 168h2V174h-2ZM719 171h2V175h-2ZM720 169h2V175h-2ZM721 171h2V175h-2ZM722 172h2V177h-2ZM723 171h2V175h-2ZM724 171h2V175h-2ZM725 172h2V176h-2ZM726 171h2V179h-2ZM727 171h2V176h-2ZM728 173h2V178h-2ZM729 172h2V180h-2ZM730 172h2V177h-2ZM731 175h2V181h-2ZM732 176h2V179h-2ZM733 176h2V180h-2ZM734 176h2V180h-2ZM735 176h2V183h-2ZM736 177h2V183h-2ZM737 176h2V181h-2ZM738 177h2V181h-2ZM739 176h2V181h-2ZM740 176h2V181h-2ZM741 179h2V183h-2ZM742 179h2V184h-2ZM743 178h2V185h-2ZM744 178h2V187h-2ZM745 180h2V187h-2ZM746 179h2V186h-2ZM747 177h2V187h-2ZM748 177h2V183h-2ZM749 179h2V187h-2ZM750 182h2V187h-2ZM751 181h2V187h-2ZM752 181h2V189h-2ZM753 181h2V190h-2ZM754 180h2V190h-2ZM755 180h2V189h-2ZM756 182h2V189h-2ZM757 184h2V191h-2ZM758 186h2V192h-2ZM759 184h2V192h-2ZM760 184h2V189h-2ZM761 186h2V193h-2ZM762 184h2V190h-2ZM763 187h2V192h-2ZM764 186h2V192h-2ZM765 187h2V194h-2ZM766 187h2V190h-2ZM767 188h2V193h-2ZM768 188h2V192h-2ZM769 188h2V191h-2ZM770 188h2V192h-2ZM771 189h2V198h-2ZM772 192h2V198h-2ZM773 189h2V198h-2ZM774 189h2V196h-2ZM775 190h2V198h-2ZM776 188h2V199h-2ZM777 194h2V199h-2ZM778 193h2V199h-2ZM779 193h2V198h-2ZM780 193h2V198h-2ZM781 193h2V201h-2ZM782 194h2V203h-2ZM783 194h2V200h-2ZM784 196h2V199h-2ZM785 189h2V202h-2ZM786 195h2V202h-2ZM787 197h2V200h-2ZM788 192h2V203h-2ZM789 198h2V204h-2ZM790 196h2V200h-2ZM791 193h2V200h-2ZM792 198h2V201h-2ZM793 195h2V203h-2ZM794 200h2V203h-2ZM795 195h2V203h-2ZM796 198h2V204h-2ZM797 198h2V206h-2ZM798 200h2V207h-2ZM799 197h2V207h-2ZM800 197h2V205h-2ZM801 201h2V210h-2ZM802 201h2V208h-2ZM803 202h2V208h-2ZM804 202h2V206h-2ZM805 200h2V207h-2ZM806 200h2V207h-2ZM807 200h2V208h-2ZM808 202h2V211h-2ZM809 203h2V213h-2ZM810 203h2V211h-2ZM811 202h2V212h-2ZM812 203h2V210h-2ZM813 208h2V213h-2ZM814 204h2V213h-2ZM815 208h2V213h-2ZM816 208h2V213h-2ZM817 209h2V214h-2ZM818 204h2V214h-2ZM819 205h2V209h-2ZM820 206h2V215h-2ZM821 201h2V210h-2ZM822 208h2V210h-2ZM823 208h2V215h-2ZM824 204h2V215h-2ZM825 212h2V215h-2ZM826 209h2V217h-2ZM827 208h2V213h-2ZM828 211h2V213h-2ZM829 208h2V213h-2ZM830 208h2V220h-2ZM831 208h2V218h-2ZM832 208h2V218h-2ZM833 211h2V220h-2ZM834 215h2V221h-2ZM835 208h2V223h-2ZM836 208h2V217h-2ZM837 210h2V220h-2ZM838 212h2V220h-2ZM839 213h2V219h-2ZM840 213h2V219h-2ZM841 211h2V221h-2ZM842 212h2V225h-2ZM843 221h2V225h-2ZM844 212h2V223h-2ZM845 215h2V223h-2ZM846 215h2V225h-2ZM847 219h2V224h-2ZM848 213h2V223h-2ZM849 216h2V223h-2ZM850 216h2V223h-2ZM851 216h2V228h-2ZM852 213h2V228h-2ZM853 217h2V228h-2ZM854 215h2V227h-2ZM855 219h2V223h-2ZM856 216h2V227h-2ZM857 218h2V227h-2ZM858 218h2V223h-2ZM859 217h2V227h-2ZM860 215h2V230h-2ZM861 221h2V230h-2ZM862 221h2V232h-2ZM863 219h2V232h-2ZM864 226h2V232h-2ZM865 222h2V232h-2ZM866 218h2V228h-2ZM867 218h2V232h-2ZM868 222h2V231h-2ZM869 219h2V231h-2ZM870 225h2V231h-2ZM871 222h2V235h-2ZM872 218h2V230h-2ZM873 218h2V232h-2ZM874 220h2V234h-2ZM875 220h2V243h-2ZM876 225h2V243h-2ZM877 225h2V233h-2ZM878 231h2V239h-2ZM879 227h2V236h-2ZM880 227h2V239h-2ZM881 228h2V238h-2ZM882 221h2V230h-2ZM883 223h2V250h-2ZM884 220h2V250h-2ZM885 220h2V235h-2ZM886 228h2V238h-2ZM887 224h2V238h-2ZM888 226h2V236h-2ZM889 225h2V239h-2ZM890 224h2V236h-2ZM891 224h2V238h-2ZM892 226h2V258h-2ZM893 231h2V240h-2ZM894 228h2V239h-2ZM895 229h2V239h-2ZM896 231h2V238h-2ZM897 232h2V244h-2ZM898 229h2V244h-2ZM899 226h2V238h-2ZM900 234h2V241h-2ZM901 234h2V243h-2ZM902 234h2V244h-2ZM903 234h2V239h-2ZM904 234h2V250h-2ZM905 233h2V244h-2ZM906 233h2V244h-2ZM907 233h2V240h-2ZM908 229h2V240h-2ZM909 229h2V254h-2ZM910 238h2V254h-2ZM911 238h2V263h-2ZM912 236h2V245h-2ZM913 237h2V243h-2ZM914 231h2V249h-2ZM915 235h2V252h-2ZM916 243h2V254h-2ZM917 235h2V247h-2ZM918 235h2V254h-2ZM919 235h2V245h-2ZM920 239h2V250h-2ZM921 239h2V247h-2ZM922 241h2V254h-2ZM923 237h2V244h-2ZM924 242h2V250h-2ZM925 237h2V247h-2ZM926 245h2V256h-2ZM927 242h2V256h-2ZM928 237h2V249h-2ZM929 237h2V266h-2ZM930 234h2V266h-2ZM931 234h2V247h-2ZM932 238h2V263h-2ZM933 238h2V258h-2ZM934 241h2V258h-2ZM935 238h2V256h-2ZM936 230h2V258h-2ZM937 237h2V263h-2ZM938 243h2V258h-2ZM939 243h2V261h-2ZM940 252h2V270h-2ZM941 254h2V258h-2ZM942 252h2V266h-2ZM943 245h2V266h-2ZM944 238h2V270h-2ZM945 237h2V270h-2ZM946 245h2V263h-2ZM947 252h2V263h-2ZM948 252h2V266h-2ZM949 239h2V273h-2ZM950 248h2V273h-2ZM951 248h2V261h-2ZM952 247h2V273h-2ZM953 243h2V258h-2ZM954 256h2V277h-2ZM955 242h2V263h-2ZM956 242h2V256h-2ZM957 247h2V258h-2ZM958 252h2V261h-2ZM959 252h2V261h-2ZM960 250h2V263h-2ZM961 250h2V270h-2ZM962 250h2V266h-2ZM963 259h2V270h-2ZM964 247h2V261h-2ZM965 238h2V263h-2ZM966 238h2V266h-2ZM967 252h2V266h-2ZM968 252h2V261h-2ZM969 256h2V266h-2ZM970 252h2V270h-2ZM971 256h2V263h-2ZM972 254h2V261h-2ZM973 247h2V270h-2ZM974 247h2V283h-2ZM975 248h2V283h-2ZM976 248h2V270h-2ZM977 248h2V283h-2ZM978 254h2V277h-2ZM979 252h2V277h-2ZM980 245h2V270h-2ZM981 242h2V266h-2ZM982 252h2V277h-2ZM983 254h2V270h-2ZM984 259h2V283h-2ZM985 256h2V283h-2ZM986 254h2V277h-2ZM987 252h2V277h-2ZM988 252h2V270h-2ZM989 252h2V289h-2ZM990 256h2V308h-2ZM991 256h2V308h-2ZM992 256h2V270h-2ZM993 261h2V266h-2ZM994 261h2V266h-2ZM995 261h2V283h-2ZM996 256h2V277h-2ZM997 256h2V289h-2ZM998 264h2V289h-2ZM999 252h2V289h-2ZM1000 252h2V283h-2ZM1001 252h2V273h-2ZM1002 259h2V283h-2ZM1003 268h2V289h-2ZM1004 254h2V273h-2ZM1005 254h2V266h-2ZM1006 250h2V273h-2ZM1007 271h2V289h-2ZM1008 268h2V297h-2ZM1009 261h2V273h-2ZM1010 271h2V289h-2ZM1011 271h2V289h-2ZM1012 254h2V289h-2ZM1013 252h2V277h-2ZM1014 268h2V308h-2ZM1015 271h2V289h-2ZM1016 259h2V308h-2ZM1017 268h2V308h-2ZM1018 264h2V289h-2ZM1019 264h2V277h-2ZM1020 268h2V297h-2ZM1021 271h2V297h-2ZM1022 271h2V277h-2ZM1023 261h2V277h-2ZM1024 261h2V289h-2ZM1025 259h2V289h-2ZM1026 268h2V283h-2ZM1027 261h2V277h-2ZM1028 268h2V283h-2ZM1029 275h2V289h-2ZM1030 271h2V289h-2ZM1031 268h2V308h-2ZM1032 268h2V297h-2ZM1033 264h2V342h-2ZM1034 281h2V297h-2ZM1035 275h2V308h-2ZM1036 259h2V283h-2ZM1037 259h2V283h-2ZM1038 261h2V277h-2ZM1039 271h2V289h-2ZM1040 281h2V297h-2ZM1041 281h2V308h-2ZM1042 264h2V308h-2ZM1043 256h2V297h-2ZM1044 281h2V297h-2ZM1045 275h2V289h-2ZM1046 275h2V289h-2ZM1047 264h2V308h-2ZM1048 264h2V297h-2ZM1049 271h2V283h-2ZM1050 275h2V289h-2ZM1051 264h2V308h-2ZM1052 268h2V308h-2ZM1053 268h2V308h-2ZM1054 281h2V297h-2ZM1055 281h2V327h-2ZM1056 287h2V297h-2ZM1057 287h2V327h-2ZM1058 271h2V327h-2ZM1059 275h2V308h-2ZM1060 271h2V308h-2ZM1061 281h2V327h-2ZM1062 275h2V327h-2ZM1063 264h2V289h-2ZM1064 264h2V297h-2ZM1065 264h2V297h-2ZM1066 264h2V327h-2ZM1067 271h2V327h-2ZM1068 281h2V327h-2ZM1069 295h2V308h-2ZM1070 268h2V297h-2ZM1071 271h2V327h-2ZM1072 281h2V327h-2ZM1073 281h2V327h-2ZM1074 287h2V308h-2ZM1075 281h2V327h-2ZM1076 287h2V327h-2ZM1077 287h2V297h-2ZM1078 295h2V297h-2ZM1079 295h2V327h-2ZM1080 275h2V308h-2ZM1081 287h2V308h-2ZM1082 281h2V308h-2ZM1083 275h2V327h-2ZM1084 275h2V327h-2ZM1085 275h2V308h-2ZM1086 295h2V308h-2ZM1087 281h2V308h-2ZM1088 281h2V342h-2ZM1089 275h2V327h-2ZM1090 281h2V327h-2ZM1091 287h2V297h-2ZM1092 287h2V297h-2ZM1093 287h2V327h-2ZM1094 281h2V327h-2ZM1095 281h2V327h-2ZM1096 275h2V297h-2ZM1097 275h2V308h-2ZM1098 287h2V308h-2ZM1099 295h2V308h-2ZM1100 295h2V327h-2ZM1101 287h2V327h-2ZM1102 295h2V342h-2ZM1103 287h2V342h-2ZM1104 295h2V327h-2ZM1105 295h2V342h-2ZM1106 295h2V342h-2ZM1107 295h2V342h-2ZM1108 295h2V327h-2ZM1109 287h2V327h-2ZM1110 287h2V327h-2ZM1111 295h2V327h-2ZM1112 295h2V308h-2ZM1113 306h2V327h-2ZM1114 281h2V327h-2ZM1115 281h2V342h-2ZM1116 295h2V308h-2ZM1117 295h2V342h-2ZM1118 295h2V327h-2ZM1119 295h2V327h-2ZM1120 306h2V308h-2ZM1121 287h2V308h-2ZM1122 287h2V342h-2ZM1123 295h2V342h-2ZM1124 295h2V327h-2ZM1125 295h2V342h-2ZM1126 271h2V308h-2ZM1127 295h2V342h-2ZM1128 295h2V342h-2ZM1129 295h2V308h-2ZM1130 281h2V308h-2ZM1131 281h2V308h-2ZM1132 287h2V308h-2ZM1133 281h2V308h-2ZM1134 287h2V342h-2ZM1135 295h2V342h-2ZM1136 295h2V327h-2ZM1137 287h2V327h-2ZM1138 287h2V308h-2ZM1139 281h2V342h-2ZM1140 325h2V342h-2ZM1141 287h2V327h-2ZM1142 287h2V308h-2ZM1143 287h2V308h-2ZM1144 295h2V327h-2ZM1145 295h2V327h-2ZM1146 306h2V327h-2ZM1147 287h2V327h-2ZM1148 287h2V342h-2ZM1149 287h2V342h-2ZM1150 306h2V342h-2ZM1151 306h2V342h-2ZM1152 306h2V327h-2ZM1153 306h2V327h-2ZM1154 287h2V342h-2ZM1155 287h2V342h-2ZM1156 306h2V327h-2ZM1157 295h2V327h-2ZM1158 295h2V342h-2ZM1159 325h2V342h-2ZM1160 306h2V342h-2ZM1161 295h2V342h-2ZM1162 295h2V327h-2ZM1163 295h2V327h-2ZM1164 325h2V342h-2ZM1165 295h2V327h-2ZM1166 295h2V308h-2ZM1167 306h2V342h-2ZM1168 275h2V327h-2ZM1169 295h2V342h-2ZM1170 295h2V342h-2ZM1171 287h2V342h-2ZM1172 287h2V342h-2ZM1173 281h2V327h-2ZM1174 281h2V342h-2ZM1175 306h2V342h-2ZM1176 295h2V342h-2ZM1177 295h2V327h-2ZM1178 295h2V327h-2ZM1179 306h2V327h-2ZM1180 325h2V342h-2ZM1181 306h2V327h-2ZM1182 306h2V327h-2ZM1183 306h2V327h-2ZM1184 295h2V342h-2ZM1185 295h2V327h-2ZM1186 275h2V327h-2ZM1187 275h2V342h-2ZM1188 281h2V342h-2ZM1189 306h2V342h-2ZM1190 306h2V327h-2ZM1191 306h2V327h-2ZM1192 287h2V327h-2ZM1193 287h2V342h-2ZM1194 295h2V342h-2ZM1195 281h2V342h-2ZM1196 287h2V327h-2ZM1197 287h2V342h-2ZM1198 306h2V342h-2ZM1199 306h2V342h-2ZM1200 306h2V327h-2ZM1201 325h2V342h-2ZM1202 287h2V342h-2ZM1203 287h2V327h-2ZM1204 287h2V342h-2ZM1205 306h2V342h-2ZM1206 295h2V342h-2ZM1207 295h2V327h-2ZM1208 306h2V342h-2ZM1209 325h2V327h-2ZM1210 325h2V342h-2ZM1211 295h2V342h-2ZM1212 295h2V342h-2ZM1213 306h2V342h-2ZM1214 306h2V342h-2ZM1215 306h2V327h-2ZM1216 306h2V342h-2ZM1217 325h2V342h-2ZM1218 306h2V327h-2ZM1219 325h2V327h-2ZM1220 306h2V342h-2ZM1221 341h2V343h-2ZM1222 281h2V342h-2ZM1223 325h2V342h-2ZM1224 325h2V342h-2ZM1225 295h2V327h-2ZM1226 306h2V327h-2ZM1227 306h2V327h-2ZM1228 306h2V342h-2ZM1229 306h2V342h-2ZM1230 325h2V342h-2ZM1231 295h2V327h-2ZM1232 306h2V342h-2ZM1233 306h2V327h-2ZM1234 306h2V327h-2ZM1235 325h2V342h-2ZM1236 325h2V342h-2ZM1237 295h2V342h-2ZM1238 341h2V343h-2ZM1239 306h2V342h-2ZM1240 306h2V342h-2ZM1241 306h2V342h-2ZM1242 306h2V342h-2ZM1243 325h2V342h-2ZM1244 325h2V342h-2ZM1245 306h2V342h-2ZM1246 341h2V343h-2ZM1247 325h2V342h-2ZM1248 306h2V342h-2ZM1249 325h2V327h-2ZM1250 295h2V327h-2ZM1251 295h2V327h-2ZM1252 295h2V327h-2ZM1253 306h2V327h-2ZM1254 287h2V342h-2ZM1255 295h2V342h-2ZM1256 295h2V308h-2ZM1257 295h2V342h-2ZM1258 306h2V342h-2ZM1259 325h2V342h-2ZM1260 325h2V342h-2ZM1261 325h2V342h-2ZM1262 325h2V342h-2ZM1263 325h2V342h-2ZM1264 306h2V342h-2ZM1265 295h2V342h-2ZM1266 295h2V342h-2ZM1267 325h2V342h-2ZM1268 306h2V342h-2ZM1269 287h2V342h-2ZM1270 287h2V342h-2ZM1271 306h2V342h-2ZM1272 325h2V342h-2ZM1273 306h2V342h-2ZM1274 306h2V342h-2ZM1275 325h2V342h-2ZM1276 325h2V342h-2ZM1277 306h2V342h-2ZM1278 325h2V342h-2ZM1279 325h2V342h-2ZM1280 325h2V342h-2ZM1281 295h2V327h-2ZM1282 325h2V342h-2ZM1283 325h2V342h-2ZM1284 341h2V343h-2ZM1285 306h2V342h-2ZM1286 306h2V342h-2ZM1287 306h2V327h-2ZM1288 306h2V342h-2ZM1289 325h2V342h-2ZM1290 295h2V342h-2ZM1291 341h2V343h-2ZM1292 325h2V342h-2ZM1293 325h2V342h-2ZM1294 295h2V327h-2ZM1295 295h2V342h-2ZM1296 341h2V343h-2ZM1297 325h2V342h-2ZM1298 306h2V342h-2ZM1299 306h2V342h-2ZM1300 325h2V342h-2ZM1301 306h2V342h-2ZM1302 306h2V342h-2ZM1303 306h2V342h-2ZM1304 306h2V327h-2ZM1305 325h2V327h-2ZM1306 325h2V342h-2ZM1307 306h2V342h-2ZM1308 325h2V342h-2ZM1309 306h2V342h-2ZM1310 306h2V342h-2ZM1311 325h2V342h-2ZM1312 325h2V327h-2ZM1313 325h2V327h-2ZM1314 325h2V342h-2ZM1315 306h2V342h-2ZM1316 325h2V342h-2ZM1317 325h2V342h-2ZM1318 325h2V342h-2ZM1319 325h2V342h-2ZM1320 306h2V327h-2ZM1321 306h2V342h-2ZM1322 306h2V342h-2ZM1323 295h2V342h-2ZM1324 306h2V342h-2ZM1325 341h2V343h-2ZM1326 306h2V342h-2ZM1327 306h2V342h-2ZM1328 306h2V342h-2ZM1329 325h2V342h-2ZM1330 306h2V342h-2ZM1331 325h2V342h-2ZM1332 325h2V342h-2ZM1333 306h2V342h-2ZM1334 306h2V342h-2ZM1335 306h2V342h-2ZM1336 325h2V342h-2ZM1337 341h2V343h-2ZM1338 325h2V342h-2ZM1339 341h2V343h-2ZM1340 325h2V342h-2ZM1341 295h2V342h-2ZM1342 325h2V342h-2ZM1343 325h2V342h-2ZM1344 306h2V342h-2ZM1345 306h2V342h-2ZM1346 306h2V342h-2ZM1347 325h2V342h-2ZM1348 325h2V327h-2ZM1349 306h2V327h-2ZM1350 295h2V342h-2ZM1351 325h2V342h-2ZM1352 325h2V327h-2ZM1353 325h2V342h-2ZM1354 295h2V342h-2ZM1355 325h2V342h-2ZM1356 325h2V342h-2ZM1357 325h2V342h-2ZM1358 341h2V343h-2ZM1359 325h2V342h-2ZM1360 295h2V327h-2ZM1361 325h2V342h-2ZM1362 325h2V342h-2ZM1363 306h2V342h-2ZM1364 325h2V342h-2ZM1365 325h2V342h-2ZM1366 306h2V327h-2ZM1367 325h2V342h-2ZM1368 325h2V342h-2ZM1369 325h2V327h-2ZM1370 325h2V342h-2ZM1371 325h2V342h-2ZM1372 325h2V342h-2ZM1373 325h2V342h-2ZM1374 325h2V342h-2ZM1375 306h2V342h-2ZM1376 325h2V342h-2ZM1377 325h2V342h-2ZM1378 295h2V342h-2ZM1379 325h2V342h-2ZM1380 306h2V342h-2ZM1381 341h2V343h-2ZM1382 325h2V342h-2ZM1383 325h2V342h-2ZM1384 341h2V343h-2ZM1385 306h2V342h-2ZM1386 306h2V342h-2ZM1387 306h2V342h-2ZM1388 287h2V342h-2ZM1389 341h2V343h-2ZM1390 325h2V342h-2ZM1391 306h2V342h-2ZM1392 306h2V342h-2ZM1393 306h2V342h-2ZM1394 341h2V343h-2ZM1395 306h2V342h-2ZM1396 306h2V342h-2ZM1397 295h2V342h-2ZM1398 295h2V342h-2ZM1399 306h2V342h-2ZM1400 341h2V343h-2ZM1401 306h2V342h-2ZM1402 306h2V327h-2ZM1403 306h2V342h-2ZM1404 306h2V342h-2ZM1405 325h2V342h-2ZM1406 341h2V343h-2ZM1407 325h2V342h-2ZM1408 325h2V342h-2ZM1409 341h2V343h-2ZM1410 306h2V342h-2ZM1411 306h2V342h-2ZM1412 325h2V342h-2ZM1413 325h2V342h-2ZM1414 306h2V342h-2ZM1415 306h2V342h-2ZM1416 325h2V342h-2ZM1417 325h2V342h-2ZM1418 341h2V343h-2ZM1419 325h2V342h-2ZM1420 341h2V343h-2ZM1421 341h2V343h-2ZM1422 325h2V342h-2ZM1423 295h2V342h-2ZM1424 295h2V342h-2ZM1425 325h2V342h-2ZM1426 341h2V343h-2ZM1427 325h2V342h-2ZM1428 325h2V342h-2ZM1429 341h2V343h-2ZM1430 325h2V342h-2ZM1431 325h2V342h-2ZM1432 325h2V342h-2ZM1433 325h2V342h-2ZM1434 325h2V342h-2ZM1435 325h2V342h-2ZM1436 341h2V343h-2ZM1437 295h2V342h-2ZM1438 295h2V342h-2ZM1439 325h2V342h-2ZM1440 325h2V342h-2ZM1441 306h2V342h-2ZM1442 325h2V342h-2ZM1443 325h2V342h-2ZM1444 295h2V342h-2ZM1445 295h2V342h-2ZM1446 325h2V342h-2ZM1447 341h2V343h-2ZM1448 341h2V343h-2ZM1449 341h2V343h-2ZM1450 325h2V342h-2ZM1451 325h2V342h-2ZM1452 325h2V342h-2ZM1453 295h2V327h-2ZM1454 295h2V342h-2ZM1455 295h2V342h-2ZM1456 295h2V308h-2ZM1457 306h2V342h-2ZM1458 325h2V342h-2ZM1459 325h2V342h-2ZM1460 325h2V342h-2ZM1461 325h2V342h-2ZM1462 325h2V342h-2ZM1463 306h2V342h-2ZM1464 341h2V343h-2ZM1465 325h2V342h-2ZM1466 325h2V342h-2ZM1467 306h2V342h-2ZM1468 325h2V342h-2ZM1469 325h2V327h-2ZM1470 325h2V342h-2ZM1471 325h2V342h-2ZM1472 306h2V342h-2ZM1473 306h2V342h-2ZM1474 306h2V342h-2ZM1475 325h2V342h-2ZM1476 325h2V342h-2ZM1477 325h2V342h-2ZM1478 325h2V342h-2ZM1479 325h2V342h-2ZM1480 325h2V342h-2ZM1481 306h2V342h-2ZM1482 341h2V343h-2ZM1483 325h2V342h-2ZM1484 306h2V342h-2ZM1485 341h2V343h-2ZM1486 341h2V343h-2ZM1487 341h2V343h-2ZM1488 325h2V342h-2ZM1489 325h2V342h-2ZM1490 306h2V342h-2ZM1491 325h2V342h-2ZM1492 325h2V342h-2ZM1493 306h2V342h-2ZM1494 325h2V342h-2ZM1495 341h2V343h-2ZM1496 325h2V342h-2ZM1497 341h2V343h-2ZM1498 341h2V343h-2ZM1499 325h2V342h-2ZM1500 325h2V342h-2ZM1501 325h2V342h-2ZM1502 341h2V343h-2ZM1503 306h2V342h-2ZM1504 295h2V327h-2ZM1505 295h2V342h-2ZM1506 306h2V342h-2ZM1507 325h2V342h-2ZM1508 306h2V327h-2ZM1509 306h2V342h-2ZM1510 306h2V342h-2ZM1511 341h2V343h-2ZM1512 341h2V343h-2ZM1513 306h2V342h-2ZM1514 306h2V342h-2ZM1515 341h2V343h-2ZM1516 341h2V343h-2ZM1517 325h2V342h-2ZM1518 306h2V342h-2ZM1519 341h2V343h-2ZM1520 325h2V342h-2ZM1521 306h2V342h-2ZM1522 306h2V342h-2ZM1523 325h2V342h-2ZM1524 325h2V342h-2ZM1525 306h2V327h-2ZM1526 325h2V327h-2ZM1527 325h2V342h-2ZM1528 325h2V342h-2ZM1529 306h2V342h-2ZM1530 325h2V342h-2ZM1531 341h2V343h-2ZM1532 325h2V342h-2ZM1533 325h2V342h-2ZM1534 325h2V342h-2ZM1535 325h2V342h-2ZM1536 325h2V342h-2ZM1537 325h2V342h-2ZM1538 325h2V342h-2ZM1539 306h2V342h-2ZM1540 341h2V343h-2ZM1541 325h2V342h-2ZM1542 325h2V342h-2ZM1543 341h2V343h-2ZM1544 295h2V342h-2ZM1545 325h2V342h-2ZM1546 341h2V343h-2ZM1547 325h2V342h-2ZM1548 306h2V342h-2ZM1549 306h2V342h-2ZM1550 306h2V342h-2ZM1551 306h2V342h-2ZM1552 306h2V342h-2ZM1553 325h2V342h-2ZM1554 325h2V342h-2ZM1555 341h2V343h-2ZM1556 306h2V342h-2ZM1557 306h2V342h-2ZM1558 325h2V342h-2ZM1559 325h2V342h-2ZM1560 306h2V327h-2ZM1561 306h2V342h-2ZM1562 325h2V342h-2ZM1563 325h2V342h-2ZM1564 325h2V342h-2ZM1565 325h2V342h-2ZM1566 325h2V342h-2ZM1567 325h2V342h-2ZM1568 325h2V342h-2ZM1569 325h2V342h-2ZM1570 325h2V342h-2ZM1571 325h2V342h-2ZM1572 325h2V342h-2ZM1573 295h2V342h-2ZM1574 325h2V342h-2ZM1575 325h2V342h-2ZM1576 306h2V342h-2ZM1577 295h2V342h-2ZM1578 306h2V327h-2ZM1579 306h2V327h-2ZM1580 325h2V342h-2ZM1581 325h2V342h-2ZM1582 306h2V342h-2ZM1583 325h2V342h-2ZM1584 325h2V342h-2ZM1585 325h2V342h-2ZM1586 325h2V342h-2ZM1587 325h2V342h-2ZM1588 325h2V342h-2ZM1589 325h2V342h-2ZM1590 325h2V342h-2ZM1591 325h2V342h-2ZM1592 325h2V342h-2ZM1593 341h2V343h-2ZM1594 325h2V342h-2ZM1595 306h2V327h-2ZM1596 325h2V342h-2ZM1597 325h2V342h-2ZM1598 306h2V342h-2ZM1599 306h2V342h-2ZM1600 325h2V342h-2ZM1601 325h2V342h-2ZM1602 325h2V342h-2ZM1603 306h2V342h-2ZM1604 306h2V342h-2ZM1605 306h2V342h-2ZM1606 341h2V343h-2ZM1607 325h2V342h-2ZM1608 341h2V343h-2ZM1609 325h2V342h-2ZM1610 325h2V342h-2ZM1611 325h2V342h-2ZM1612 341h2V343h-2ZM1613 325h2V342h-2ZM1614 325h2V342h-2ZM1615 306h2V342h-2ZM1616 306h2V342h-2ZM1617 306h2V342h-2ZM1618 306h2V342h-2ZM1619 325h2V342h-2ZM1620 341h2V343h-2ZM1621 325h2V342h-2ZM1622 325h2V342h-2ZM1623 341h2V343h-2ZM1624 325h2V342h-2ZM1625 325h2V342h-2ZM1626 325h2V342h-2ZM1627 295h2V342h-2ZM1628 306h2V342h-2ZM1629 325h2V342h-2ZM1630 325h2V342h-2ZM1631 306h2V342h-2ZM1632 325h2V342h-2ZM1633 341h2V343h-2ZM1634 306h2V342h-2ZM1635 341h2V343h-2ZM1636 325h2V342h-2ZM1637 325h2V342h-2ZM1638 341h2V343h-2ZM1639 325h2V342h-2ZM1640 325h2V342h-2ZM1641 295h2V342h-2ZM1642 295h2V342h-2Z" fill="#229a3a"/><path d="M482 326h1V342h-1ZM485 326h1V342h-1ZM503 326h1V342h-1ZM534 326h1V342h-1ZM545 326h1V342h-1ZM555 326h1V342h-1ZM569 326h1V342h-1ZM570 326h1V342h-1ZM589 326h1V342h-1ZM1035 326h1V342h-1ZM1067 326h1V342h-1ZM1152 326h1V342h-1ZM1158 326h1V342h-1ZM1162 326h1V342h-1ZM1187 326h1V342h-1ZM1229 326h1V342h-1ZM1232 326h1V342h-1ZM1263 326h1V342h-1ZM1293 326h1V342h-1ZM1301 326h1V342h-1ZM1339 326h1V342h-1ZM1363 326h1V342h-1ZM1365 326h1V342h-1ZM1367 326h1V342h-1ZM1380 326h1V342h-1ZM1409 326h1V342h-1ZM1434 326h1V342h-1ZM1480 326h1V342h-1ZM1493 326h1V342h-1ZM1508 326h1V342h-1ZM1522 326h1V342h-1ZM1587 326h1V342h-1ZM1617 326h1V342h-1Z" fill="#ff0000"/></g><rect x="468" y="93" width="2" height="347" fill="#0000ff"/><rect x="1632" y="93" width="2" height="347" fill="#0000ff"/><path d="M468 93H472L470 95H468Z" fill="#0000ff"/><path d="M1634 93H1630L1632 95H1634Z" fill="#0000ff"/><path d="M470 118.5L474 122.5L470 126.5ZM1632 118.5L1628 122.5L1632 126.5ZM470 148.5L474 152.5L470 156.5ZM1632 148.5L1628 152.5L1632 156.5ZM470 178.5L474 182.5L470 186.5ZM1632 178.5L1628 182.5L1632 186.5ZM470 208.5L474 212.5L470 216.5ZM1632 208.5L1628 212.5L1632 216.5ZM470 238.5L474 242.5L470 246.5ZM1632 238.5L1628 242.5L1632 246.5ZM470 268.5L474 272.5L470 276.5ZM1632 268.5L1628 272.5L1632 276.5ZM470 298.5L474 302.5L470 306.5ZM1632 298.5L1628 302.5L1632 306.5ZM470 328.5L474 332.5L470 336.5ZM1632 328.5L1628 332.5L1632 336.5ZM470 358.5L474 362.5L470 366.5ZM1632 358.5L1628 362.5L1632 366.5ZM470 388.5L474 392.5L470 396.5ZM1632 388.5L1628 392.5L1632 396.5ZM470 418.5L474 422.5L470 426.5ZM1632 418.5L1628 422.5L1632 426.5Z" fill="#0000ff"/><rect x="455" y="93" width="1181" height="1" fill="#000"/><rect x="455" y="341" width="1181" height="2" fill="#000"/><rect x="455" y="440" width="1181" height="1" fill="#000"/><rect x="455" y="93" width="1" height="348" fill="#000"/><path d="M465.5 94v4M465.5 341v-4M465.5 440v-4M488.5 94v2M488.5 341v-2M488.5 440v-2M512.5 94v2M512.5 341v-2M512.5 440v-2M535.5 94v2M535.5 341v-2M535.5 440v-2M559.5 94v4M559.5 341v-4M559.5 440v-4M582.5 94v2M582.5 341v-2M582.5 440v-2M606.5 94v2M606.5 341v-2M606.5 440v-2M629.5 94v2M629.5 341v-2M629.5 440v-2M652.5 94v4M652.5 341v-4M652.5 440v-4M676.5 94v2M676.5 341v-2M676.5 440v-2M699.5 94v2M699.5 341v-2M699.5 440v-2M723.5 94v2M723.5 341v-2M723.5 440v-2M746.5 94v4M746.5 341v-4M746.5 440v-4M770.5 94v2M770.5 341v-2M770.5 440v-2M793.5 94v2M793.5 341v-2M793.5 440v-2M817.5 94v2M817.5 341v-2M817.5 440v-2M840.5 94v4M840.5 341v-4M840.5 440v-4M864.5 94v2M864.5 341v-2M864.5 440v-2M887.5 94v2M887.5 341v-2M887.5 440v-2M910.5 94v2M910.5 341v-2M910.5 440v-2M934.5 94v4M934.5 341v-4M934.5 440v-4M957.5 94v2M957.5 341v-2M957.5 440v-2M981.5 94v2M981.5 341v-2M981.5 440v-2M1004.5 94v2M1004.5 341v-2M1004.5 440v-2M1028.5 94v4M1028.5 341v-4M1028.5 440v-4M1051.5 94v2M1051.5 341v-2M1051.5 440v-2M1075.5 94v2M1075.5 341v-2M1075.5 440v-2M1098.5 94v2M1098.5 341v-2M1098.5 440v-2M1122.5 94v4M1122.5 341v-4M1122.5 440v-4M1145.5 94v2M1145.5 341v-2M1145.5 440v-2M1169.5 94v2M1169.5 341v-2M1169.5 440v-2M1192.5 94v2M1192.5 341v-2M1192.5 440v-2M1215.5 94v4M1215.5 341v-4M1215.5 440v-4M1239.5 94v2M1239.5 341v-2M1239.5 440v-2M1262.5 94v2M1262.5 341v-2M1262.5 440v-2M1286.5 94v2M1286.5 341v-2M1286.5 440v-2M1309.5 94v4M1309.5 341v-4M1309.5 440v-4M1333.5 94v2M1333.5 341v-2M1333.5 440v-2M1356.5 94v2M1356.5 341v-2M1356.5 440v-2M1380.5 94v2M1380.5 341v-2M1380.5 440v-2M1403.5 94v4M1403.5 341v-4M1403.5 440v-4M1427.5 94v2M1427.5 341v-2M1427.5 440v-2M1450.5 94v2M1450.5 341v-2M1450.5 440v-2M1474.5 94v2M1474.5 341v-2M1474.5 440v-2M1497.5 94v4M1497.5 341v-4M1497.5 440v-4M1520.5 94v2M1520.5 341v-2M1520.5 440v-2M1544.5 94v2M1544.5 341v-2M1544.5 440v-2M1567.5 94v2M1567.5 341v-2M1567.5 440v-2M1591.5 94v4M1591.5 341v-4M1591.5 440v-4M1614.5 94v2M1614.5 341v-2M1614.5 440v-2M456 340.5h1.5M456 336.5h1.5M456 332.5h1.5M456 329.5h1.5M456 326.5h3M456 307.5h1.5M456 295.5h1.5M456 287.5h1.5M456 281.5h1.5M456 276.5h1.5M456 272.5h1.5M456 268.5h1.5M456 265.5h1.5M456 262.5h3M456 243.5h1.5M456 231.5h1.5M456 223.5h1.5M456 217.5h1.5M456 212.5h1.5M456 208.5h1.5M456 204.5h1.5M456 201.5h1.5M456 198.5h3M456 179.5h1.5M456 167.5h1.5M456 159.5h1.5M456 153.5h1.5M456 148.5h1.5M456 144.5h1.5M456 140.5h1.5M456 137.5h1.5M456 134.5h3M456 115.5h1.5M456 103.5h1.5M456 95.5h1.5M456 431.5h3M456 421.5h1.5M456 411.5h1.5M456 401.5h1.5M456 391.5h3M456 382.5h1.5M456 372.5h1.5M456 362.5h1.5M456 352.5h3" stroke="#000" stroke-width="1" fill="none"/></svg>
<span style="left:824.5px;width:400px;top:73px;font-size:16.5px;line-height:16.5px;color:#000;font-weight:700;text-align:center;">Fit</span>
<span style="left:429px;top:319px;font-size:15.7px;line-height:15.7px;color:#000;font-weight:400;">10</span>
<span style="left:446.5px;top:319px;font-size:11.5px;line-height:11.5px;color:#000;font-weight:400;">0</span>
<span style="left:429px;top:255px;font-size:15.7px;line-height:15.7px;color:#000;font-weight:400;">10</span>
<span style="left:446.5px;top:255px;font-size:11.5px;line-height:11.5px;color:#000;font-weight:400;">1</span>
<span style="left:429px;top:191px;font-size:15.7px;line-height:15.7px;color:#000;font-weight:400;">10</span>
<span style="left:446.5px;top:191px;font-size:11.5px;line-height:11.5px;color:#000;font-weight:400;">2</span>
<span style="left:429px;top:127px;font-size:15.7px;line-height:15.7px;color:#000;font-weight:400;">10</span>
<span style="left:446.5px;top:127px;font-size:11.5px;line-height:11.5px;color:#000;font-weight:400;">3</span>
<span style="right:1185.5px;top:345px;font-size:15.7px;line-height:15.7px;color:#000;font-weight:400;text-align:right;">0,4</span>
<span style="right:1185.5px;top:384px;font-size:15.7px;line-height:15.7px;color:#000;font-weight:400;text-align:right;">0,0</span>
<span style="right:1185.5px;top:424px;font-size:15.7px;line-height:15.7px;color:#000;font-weight:400;text-align:right;">-0,4</span>
<span style="left:265.25px;width:400px;top:443px;font-size:15.7px;line-height:15.7px;color:#000;font-weight:400;text-align:center;">0</span>
<span style="left:359.09000000000003px;width:400px;top:443px;font-size:15.7px;line-height:15.7px;color:#000;font-weight:400;text-align:center;">4</span>
<span style="left:452.93000000000006px;width:400px;top:443px;font-size:15.7px;line-height:15.7px;color:#000;font-weight:400;text-align:center;">8</span>
<span style="left:546.77px;width:400px;top:443px;font-size:15.7px;line-height:15.7px;color:#000;font-weight:400;text-align:center;">12</span>
<span style="left:640.61px;width:400px;top:443px;font-size:15.7px;line-height:15.7px;color:#000;font-weight:400;text-align:center;">16</span>
<span style="left:734.45px;width:400px;top:443px;font-size:15.7px;line-height:15.7px;color:#000;font-weight:400;text-align:center;">20</span>
<span style="left:828.29px;width:400px;top:443px;font-size:15.7px;line-height:15.7px;color:#000;font-weight:400;text-align:center;">24</span>
<span style="left:922.1300000000001px;width:400px;top:443px;font-size:15.7px;line-height:15.7px;color:#000;font-weight:400;text-align:center;">28</span>
<span style="left:1015.97px;width:400px;top:443px;font-size:15.7px;line-height:15.7px;color:#000;font-weight:400;text-align:center;">32</span>
<span style="left:1109.81px;width:400px;top:443px;font-size:15.7px;line-height:15.7px;color:#000;font-weight:400;text-align:center;">36</span>
<span style="left:1203.65px;width:400px;top:443px;font-size:15.7px;line-height:15.7px;color:#000;font-weight:400;text-align:center;">40</span>
<span style="left:1297.49px;width:400px;top:443px;font-size:15.7px;line-height:15.7px;color:#000;font-weight:400;text-align:center;">44</span>
<span style="left:1391.33px;width:400px;top:443px;font-size:15.7px;line-height:15.7px;color:#000;font-weight:400;text-align:center;">48</span>
<span style="left:410.5px;top:224px;font-size:15.3px;line-height:15px;transform:translate(-50%,-50%) rotate(-90deg);transform-origin:center">Intensity [ Cnts]</span>
<div style="left:400px;top:339px;width:20px;height:102px;overflow:hidden"><span style="left:10.5px;top:54px;font-size:15.3px;line-height:15px;transform:translate(-50%,-50%) rotate(-90deg);transform-origin:center">Resids. [StdDev.]</span></div>
<div style="left:1368px;top:98px;width:269px;height:91px;background:#ffffd2;border:1px solid #000;border-right:none"></div>
<div style="left:1370px;top:103px;width:13px;height:10px;background:#c0c0c0"></div>
<span style="left:1389px;top:103px;font-size:12.2px;line-height:12.2px;color:#000;font-weight:400;white-space:nowrap">Calculated IRF</span>
<div style="left:1370px;top:121px;width:13px;height:10px;background:#ff0000"></div>
<span style="left:1389px;top:121px;font-size:12.2px;line-height:12.2px;color:#000;font-weight:400;white-space:nowrap">CENP-labelled_cells_for_FRET_IRF_Det2.ptu</span>
<div style="left:1370px;top:139px;width:13px;height:10px;background:#c0c0c0"></div>
<span style="left:1389px;top:139px;font-size:12.2px;line-height:12.2px;color:#000;font-weight:400;white-space:nowrap">Overall Decay</span>
<div style="left:1370px;top:157px;width:13px;height:10px;background:#c0c0c0"></div>
<span style="left:1389px;top:157px;font-size:12.2px;line-height:12.2px;color:#000;font-weight:400;white-space:nowrap">Pixel (1,1)</span>
<div style="left:1370px;top:175px;width:13px;height:10px;background:#22a03c"></div>
<span style="left:1389px;top:175px;font-size:12.2px;line-height:12.2px;color:#000;font-weight:400;white-space:nowrap">ROI 0</span><svg style="left:0;top:0" width="1637" height="472" shape-rendering="crispEdges"><rect x="444.5" y="93.5" width="10" height="10" fill="#22a03c" stroke="#000"/><rect x="447" y="98" width="5" height="1.5" fill="#000"/><rect x="444.5" y="342.5" width="10" height="10" fill="#22a03c" stroke="#000"/><rect x="447" y="347" width="5" height="1.5" fill="#000"/></svg>
<div style="left:392px;top:460px;width:1245px;height:12px;background:#e0e8de;border-top:1px solid #888"></div>
<div style="left:392px;top:461px;width:21px;height:11px;background:#e0e8de;border-left:1px solid #888;border-right:2px solid #888"></div>
<svg style="left:392px;top:461px" width="21" height="11"><path d="M12 4 L7 9 L12 14Z" fill="#000"/></svg>
<div style="left:1595px;top:461px;width:21px;height:11px;background:#d0d8ce;border-left:1px solid #888;border-right:1px solid #888"></div>
<svg style="left:1616px;top:461px" width="21" height="11"><path d="M9 4 L14 9 L9 14Z" fill="#000"/></svg>
<div style="left:392px;top:471px;width:1245px;height:1px;background:#888"></div>
</body></html>
